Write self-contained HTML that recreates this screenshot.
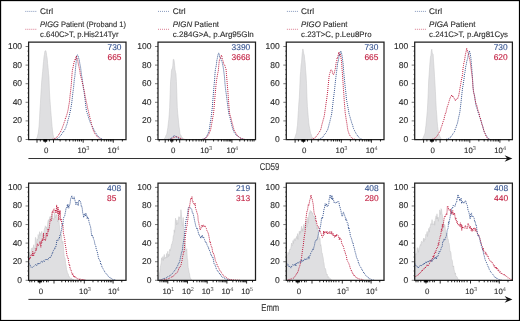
<!DOCTYPE html>
<html><head><meta charset="utf-8"><style>
html,body{margin:0;padding:0;background:#fff;overflow:hidden;}
svg{display:block;font-family:"Liberation Sans",sans-serif;}
text{stroke-width:0.12px;paint-order:stroke;}
svg{-webkit-font-smoothing:antialiased;text-rendering:geometricPrecision;will-change:transform;}
</style></head><body>
<svg width="520" height="321" viewBox="0 0 520 321">
<rect width="520" height="321" fill="#fff"/>
<rect x="0.55" y="0.55" width="518.95" height="319.95" fill="none" stroke="#000" stroke-width="1.2"/>
<line x1="25.3" y1="11.4" x2="37.3" y2="11.4" stroke="#34528f" stroke-width="0.9" stroke-dasharray="1 1" opacity="0.65"/>
<line x1="25.3" y1="29.3" x2="37.3" y2="29.3" stroke="#c01a3d" stroke-width="0.9" stroke-dasharray="1 1" opacity="0.62"/>
<text x="40.10" y="13.90" font-size="8.1" fill="#2b2b2b" stroke="#2b2b2b" textLength="12.9" lengthAdjust="spacingAndGlyphs">Ctrl</text>
<text x="40.10" y="26.9" font-size="8" fill="#2b2b2b" stroke="#2b2b2b" textLength="85.8" lengthAdjust="spacingAndGlyphs"><tspan font-style="italic">PIGG</tspan> Patient (Proband 1)</text>
<text x="40.10" y="36.80" font-size="8" fill="#2b2b2b" stroke="#2b2b2b" textLength="78.4" lengthAdjust="spacingAndGlyphs">c.640C&gt;T, p.His214Tyr</text>
<line x1="158.0" y1="11.4" x2="170.0" y2="11.4" stroke="#34528f" stroke-width="0.9" stroke-dasharray="1 1" opacity="0.65"/>
<line x1="158.0" y1="29.3" x2="170.0" y2="29.3" stroke="#c01a3d" stroke-width="0.9" stroke-dasharray="1 1" opacity="0.62"/>
<text x="172.80" y="13.90" font-size="8.1" fill="#2b2b2b" stroke="#2b2b2b" textLength="12.9" lengthAdjust="spacingAndGlyphs">Ctrl</text>
<text x="172.80" y="26.9" font-size="8" fill="#2b2b2b" stroke="#2b2b2b" textLength="46.2" lengthAdjust="spacingAndGlyphs"><tspan font-style="italic">PIGN</tspan> Patient</text>
<text x="172.80" y="36.80" font-size="8" fill="#2b2b2b" stroke="#2b2b2b" textLength="81.0" lengthAdjust="spacingAndGlyphs">c.284G&gt;A, p.Arg95Gln</text>
<line x1="286.90000000000003" y1="11.4" x2="298.90000000000003" y2="11.4" stroke="#34528f" stroke-width="0.9" stroke-dasharray="1 1" opacity="0.65"/>
<line x1="286.90000000000003" y1="29.3" x2="298.90000000000003" y2="29.3" stroke="#c01a3d" stroke-width="0.9" stroke-dasharray="1 1" opacity="0.62"/>
<text x="301.10" y="13.90" font-size="8.1" fill="#2b2b2b" stroke="#2b2b2b" textLength="12.9" lengthAdjust="spacingAndGlyphs">Ctrl</text>
<text x="301.10" y="26.9" font-size="8" fill="#2b2b2b" stroke="#2b2b2b" textLength="46.4" lengthAdjust="spacingAndGlyphs"><tspan font-style="italic">PIGO</tspan> Patient</text>
<text x="301.10" y="36.80" font-size="8" fill="#2b2b2b" stroke="#2b2b2b" textLength="70.4" lengthAdjust="spacingAndGlyphs">c.23T&gt;C, p.Leu8Pro</text>
<line x1="414.90000000000003" y1="11.4" x2="426.90000000000003" y2="11.4" stroke="#34528f" stroke-width="0.9" stroke-dasharray="1 1" opacity="0.65"/>
<line x1="414.90000000000003" y1="29.3" x2="426.90000000000003" y2="29.3" stroke="#c01a3d" stroke-width="0.9" stroke-dasharray="1 1" opacity="0.62"/>
<text x="429.10" y="13.90" font-size="8.1" fill="#2b2b2b" stroke="#2b2b2b" textLength="12.9" lengthAdjust="spacingAndGlyphs">Ctrl</text>
<text x="429.10" y="26.9" font-size="8" fill="#2b2b2b" stroke="#2b2b2b" textLength="46.4" lengthAdjust="spacingAndGlyphs"><tspan font-style="italic">PIGA</tspan> Patient</text>
<text x="429.10" y="36.80" font-size="8" fill="#2b2b2b" stroke="#2b2b2b" textLength="78.9" lengthAdjust="spacingAndGlyphs">c.241C&gt;T, p.Arg81Cys</text>
<path d="M35.00,139.50 L35.45,139.30 L35.90,139.17 L36.35,138.93 L36.80,138.12 L37.25,137.13 L37.70,135.16 L38.15,133.49 L38.60,130.00 L39.05,126.24 L39.50,118.81 L39.95,109.89 L40.40,103.67 L40.85,94.80 L41.30,87.82 L41.75,80.60 L42.20,76.24 L42.65,71.39 L43.10,65.91 L43.55,61.49 L44.00,56.71 L44.45,54.23 L44.90,51.12 L45.35,50.91 L45.80,50.56 L46.25,52.36 L46.70,55.64 L47.15,57.87 L47.60,63.49 L48.05,67.43 L48.50,73.16 L48.95,77.18 L49.40,90.06 L49.85,98.16 L50.30,104.24 L50.75,110.51 L51.20,115.83 L51.65,121.06 L52.10,126.45 L52.55,130.62 L53.00,134.20 L53.45,136.27 L53.90,137.18 L54.35,138.37 L54.80,138.62 L55.25,138.68 L55.70,139.13 L56.15,139.18 L57.00,139.50 L57.00,139.5 L35.00,139.5 Z" fill="#dfdfe1" stroke="#c4c4c6" stroke-width="0.5"/>
<path d="M55.00,139.50 L55.45,139.29 L55.90,139.12 L56.35,138.99 L56.80,138.68 L57.25,138.49 L57.70,138.28 L58.15,138.04 L58.60,137.85 L59.05,137.33 L59.50,136.94 L59.95,136.19 L60.40,135.80 L60.85,135.24 L61.30,134.78 L61.75,134.13 L62.20,133.46 L62.65,132.55 L63.10,132.52 L63.55,131.82 L64.00,130.90 L64.45,130.05 L64.90,129.36 L65.35,128.72 L65.80,127.71 L66.25,125.87 L66.70,124.97 L67.15,123.75 L67.60,121.57 L68.05,119.91 L68.50,118.55 L68.95,116.90 L69.40,115.22 L69.85,112.88 L70.30,111.15 L70.75,108.85 L71.20,105.94 L71.65,103.86 L72.10,99.56 L72.55,95.56 L73.00,91.62 L73.45,88.67 L73.90,83.96 L74.35,79.20 L74.80,76.53 L75.25,71.60 L75.70,66.30 L76.15,62.25 L76.60,56.52 L77.05,55.04 L77.50,54.85 L77.95,55.83 L78.40,56.96 L78.85,58.82 L79.30,59.93 L79.75,63.16 L80.20,65.57 L80.65,67.79 L81.10,71.56 L81.55,75.25 L82.00,77.52 L82.45,80.42 L82.90,84.51 L83.35,87.98 L83.80,90.39 L84.25,93.40 L84.70,96.84 L85.15,100.00 L85.60,104.82 L86.05,107.83 L86.50,111.30 L86.95,112.67 L87.40,113.74 L87.85,115.13 L88.30,116.63 L88.75,118.15 L89.20,119.56 L89.65,120.91 L90.10,122.04 L90.55,123.15 L91.00,123.93 L91.45,124.76 L91.90,125.80 L92.35,126.52 L92.80,127.47 L93.25,128.07 L93.70,129.33 L94.15,130.33 L94.60,131.07 L95.05,131.75 L95.50,132.34 L95.95,133.30 L96.40,133.94 L96.85,134.49 L97.30,135.64 L97.75,135.89 L98.20,136.17 L98.65,136.61 L99.10,137.08 L99.55,137.59 L100.00,137.95 L100.45,138.20 L100.90,138.48 L101.35,138.53 L101.80,138.88 L102.25,139.15 L103.00,139.50" fill="none" stroke="#34528f" stroke-width="1" stroke-dasharray="1 1" stroke-linejoin="round"/>
<path d="M52.00,139.50 L52.45,139.33 L52.90,139.27 L53.35,139.02 L53.80,138.77 L54.25,138.73 L54.70,138.49 L55.15,138.25 L55.60,138.08 L56.05,137.82 L56.50,137.56 L56.95,136.90 L57.40,136.36 L57.85,135.70 L58.30,135.09 L58.75,134.97 L59.20,133.66 L59.65,133.32 L60.10,132.21 L60.55,131.86 L61.00,130.80 L61.45,129.84 L61.90,128.97 L62.35,127.69 L62.80,126.34 L63.25,125.30 L63.70,124.16 L64.15,122.52 L64.60,121.39 L65.05,120.32 L65.50,117.96 L65.95,117.69 L66.40,115.60 L66.85,114.53 L67.30,112.96 L67.75,111.07 L68.20,109.25 L68.65,106.09 L69.10,103.94 L69.55,100.95 L70.00,95.98 L70.45,92.47 L70.90,88.30 L71.35,83.87 L71.80,76.92 L72.25,71.60 L72.70,68.49 L73.15,67.13 L73.60,64.20 L74.05,62.61 L74.50,60.45 L74.95,59.52 L75.40,60.27 L75.85,57.22 L76.30,55.96 L76.75,57.31 L77.20,59.67 L77.65,59.74 L78.10,62.68 L78.55,65.09 L79.00,66.78 L79.45,69.16 L79.90,71.08 L80.35,74.93 L80.80,76.30 L81.25,78.11 L81.70,79.72 L82.15,82.12 L82.60,83.97 L83.05,84.76 L83.50,87.45 L83.95,89.69 L84.40,91.35 L84.85,94.37 L85.30,97.49 L85.75,98.91 L86.20,101.76 L86.65,102.93 L87.10,105.35 L87.55,107.79 L88.00,109.67 L88.45,111.48 L88.90,113.57 L89.35,114.97 L89.80,117.22 L90.25,118.69 L90.70,120.38 L91.15,122.16 L91.60,124.57 L92.05,125.99 L92.50,128.42 L92.95,129.31 L93.40,130.55 L93.85,131.04 L94.30,132.54 L94.75,133.40 L95.20,134.26 L95.65,134.75 L96.10,135.34 L96.55,135.74 L97.00,136.07 L97.45,136.80 L97.90,137.26 L98.35,137.74 L98.80,138.19 L99.25,138.53 L99.70,138.75 L100.15,138.94 L101.00,139.50" fill="none" stroke="#c01a3d" stroke-width="1" stroke-dasharray="1 1" stroke-linejoin="round"/>
<path d="M162.00,139.50 L162.45,139.43 L162.90,139.38 L163.35,139.36 L163.80,139.28 L164.25,138.84 L164.70,138.20 L165.15,137.47 L165.60,136.46 L166.05,135.25 L166.50,134.72 L166.95,133.25 L167.40,130.26 L167.85,127.60 L168.30,123.28 L168.75,119.67 L169.20,114.72 L169.65,107.51 L170.10,94.56 L170.55,81.84 L171.00,76.73 L171.45,70.74 L171.90,68.86 L172.35,68.80 L172.80,65.84 L173.25,59.38 L173.70,59.26 L174.15,60.74 L174.60,65.29 L175.05,69.64 L175.50,72.20 L175.95,73.56 L176.40,81.45 L176.85,93.66 L177.30,107.73 L177.75,113.84 L178.20,117.87 L178.65,122.87 L179.10,126.99 L179.55,129.75 L180.00,134.46 L180.45,134.67 L180.90,135.04 L181.35,136.54 L181.80,137.03 L182.25,137.45 L182.70,138.15 L183.15,138.47 L183.60,138.87 L184.05,139.35 L184.50,139.35 L184.95,139.38 L185.40,139.42 L186.00,139.50 L186.00,139.5 L162.00,139.5 Z" fill="#dfdfe1" stroke="#c4c4c6" stroke-width="0.5"/>
<path d="M202.00,139.50 L202.45,139.35 L202.90,139.14 L203.35,138.89 L203.80,138.74 L204.25,138.62 L204.70,138.44 L205.15,137.96 L205.60,137.90 L206.05,137.18 L206.50,136.84 L206.95,135.66 L207.40,134.92 L207.85,133.96 L208.30,132.92 L208.75,131.51 L209.20,129.88 L209.65,127.57 L210.10,123.81 L210.55,121.07 L211.00,118.47 L211.45,114.80 L211.90,111.07 L212.35,106.91 L212.80,101.14 L213.25,95.20 L213.70,89.77 L214.15,84.66 L214.60,79.92 L215.05,72.99 L215.50,68.55 L215.95,67.18 L216.40,64.50 L216.85,60.23 L217.30,58.57 L217.75,55.74 L218.20,54.05 L218.65,53.20 L219.10,53.26 L219.55,57.13 L220.00,57.51 L220.45,58.00 L220.90,58.70 L221.35,60.62 L221.80,61.30 L222.25,62.61 L222.70,64.86 L223.15,66.88 L223.60,69.81 L224.05,73.39 L224.50,77.03 L224.95,83.10 L225.40,87.82 L225.85,91.25 L226.30,94.47 L226.75,98.08 L227.20,101.46 L227.65,104.97 L228.10,108.34 L228.55,111.91 L229.00,114.65 L229.45,115.78 L229.90,117.33 L230.35,119.31 L230.80,121.28 L231.25,122.82 L231.70,124.95 L232.15,126.90 L232.60,128.08 L233.05,130.03 L233.50,130.52 L233.95,131.70 L234.40,132.77 L234.85,133.22 L235.30,133.51 L235.75,134.63 L236.20,135.36 L236.65,135.58 L237.10,135.71 L237.55,136.04 L238.00,136.41 L238.45,136.57 L238.90,136.99 L239.35,137.40 L239.80,137.65 L240.25,137.87 L240.70,138.11 L241.15,138.29 L241.60,138.63 L242.05,138.74 L242.50,138.87 L242.95,139.10 L243.40,139.22 L244.00,139.50" fill="none" stroke="#34528f" stroke-width="1" stroke-dasharray="1 1" stroke-linejoin="round"/>
<path d="M203.00,139.50 L203.45,139.28 L203.90,138.92 L204.35,138.75 L204.80,138.62 L205.25,138.37 L205.70,137.92 L206.15,137.83 L206.60,137.10 L207.05,136.47 L207.50,136.00 L207.95,135.58 L208.40,134.77 L208.85,134.14 L209.30,133.03 L209.75,131.96 L210.20,130.99 L210.65,129.51 L211.10,127.02 L211.55,124.56 L212.00,122.05 L212.45,119.60 L212.90,116.72 L213.35,114.82 L213.80,110.82 L214.25,105.08 L214.70,100.31 L215.15,94.35 L215.60,89.74 L216.05,84.42 L216.50,80.79 L216.95,77.87 L217.40,75.33 L217.85,72.77 L218.30,71.05 L218.75,65.61 L219.20,61.35 L219.65,59.28 L220.10,58.95 L220.55,57.13 L221.00,57.19 L221.45,55.12 L221.90,56.41 L222.35,59.79 L222.80,60.20 L223.25,61.42 L223.70,64.00 L224.15,64.66 L224.60,65.04 L225.05,65.97 L225.50,67.80 L225.95,68.60 L226.40,73.13 L226.85,78.84 L227.30,84.60 L227.75,89.82 L228.20,95.67 L228.65,102.39 L229.10,107.31 L229.55,112.83 L230.00,114.91 L230.45,116.22 L230.90,117.87 L231.35,119.40 L231.80,121.77 L232.25,123.38 L232.70,124.81 L233.15,126.65 L233.60,128.48 L234.05,130.10 L234.50,131.00 L234.95,131.43 L235.40,132.26 L235.85,133.10 L236.30,133.96 L236.75,134.61 L237.20,135.62 L237.65,135.76 L238.10,136.03 L238.55,136.65 L239.00,136.85 L239.45,137.28 L239.90,137.86 L240.35,138.07 L240.80,138.21 L241.25,138.29 L241.70,138.42 L242.15,138.61 L242.60,138.81 L243.05,138.90 L243.50,139.03 L243.95,139.14 L244.40,139.30 L245.00,139.50" fill="none" stroke="#c01a3d" stroke-width="1" stroke-dasharray="1 1" stroke-linejoin="round"/>
<path d="M169.00,139.50 L171.00,139.20 L173.50,137.60 L176.50,136.50 L179.50,137.80 L182.00,139.20 L185.00,139.50" fill="none" stroke="#c01a3d" stroke-width="1" stroke-dasharray="1 1" stroke-linejoin="round"/>
<path d="M168.00,139.50 L170.00,139.20 L172.00,137.50 L174.50,135.50 L177.00,137.50 L180.00,139.20 L182.00,139.50" fill="none" stroke="#34528f" stroke-width="1" stroke-dasharray="1 1" stroke-linejoin="round"/>
<path d="M293.00,139.50 L293.45,139.37 L293.90,139.24 L294.35,139.13 L294.80,137.82 L295.25,136.43 L295.70,135.11 L296.15,133.80 L296.60,132.32 L297.05,127.79 L297.50,125.13 L297.95,117.26 L298.40,110.53 L298.85,102.69 L299.30,97.85 L299.75,87.86 L300.20,76.79 L300.65,71.42 L301.10,64.90 L301.55,62.20 L302.00,55.77 L302.45,51.37 L302.90,48.91 L303.35,50.96 L303.80,53.95 L304.25,55.01 L304.70,59.42 L305.15,62.72 L305.60,70.18 L306.05,74.86 L306.50,83.35 L306.95,96.58 L307.40,106.70 L307.85,112.10 L308.30,117.52 L308.75,122.69 L309.20,125.97 L309.65,128.26 L310.10,130.65 L310.55,133.34 L311.00,133.91 L311.45,135.18 L311.90,136.73 L312.35,137.31 L312.80,137.86 L313.25,138.08 L313.70,138.77 L314.15,138.99 L314.60,139.18 L315.05,139.30 L315.50,139.35 L316.00,139.50 L316.00,139.5 L293.00,139.5 Z" fill="#dfdfe1" stroke="#c4c4c6" stroke-width="0.5"/>
<path d="M318.00,139.50 L318.45,139.36 L318.90,139.14 L319.35,139.01 L319.80,138.82 L320.25,138.57 L320.70,138.43 L321.15,138.39 L321.60,137.99 L322.05,138.02 L322.50,137.36 L322.95,136.91 L323.40,136.21 L323.85,135.84 L324.30,134.68 L324.75,134.11 L325.20,133.91 L325.65,133.28 L326.10,132.63 L326.55,131.37 L327.00,131.02 L327.45,130.24 L327.90,128.92 L328.35,127.15 L328.80,125.69 L329.25,123.65 L329.70,122.37 L330.15,120.22 L330.60,118.36 L331.05,116.57 L331.50,115.09 L331.95,111.66 L332.40,107.54 L332.85,104.13 L333.30,99.49 L333.75,96.14 L334.20,92.88 L334.65,88.75 L335.10,84.39 L335.55,80.16 L336.00,76.46 L336.45,72.70 L336.90,69.18 L337.35,65.76 L337.80,62.04 L338.25,61.46 L338.70,58.59 L339.15,54.54 L339.60,55.98 L340.05,53.35 L340.50,51.15 L340.95,51.26 L341.40,52.64 L341.85,54.64 L342.30,57.25 L342.75,61.22 L343.20,64.51 L343.65,71.36 L344.10,75.91 L344.55,80.46 L345.00,85.18 L345.45,89.32 L345.90,92.83 L346.35,98.60 L346.80,101.26 L347.25,103.55 L347.70,106.08 L348.15,108.32 L348.60,110.90 L349.05,113.73 L349.50,115.34 L349.95,116.67 L350.40,118.51 L350.85,119.87 L351.30,121.10 L351.75,123.07 L352.20,124.05 L352.65,125.17 L353.10,127.26 L353.55,128.52 L354.00,130.03 L354.45,130.41 L354.90,131.43 L355.35,132.07 L355.80,133.13 L356.25,133.75 L356.70,134.50 L357.15,135.45 L357.60,135.51 L358.05,136.14 L358.50,137.01 L358.95,137.26 L359.40,137.89 L359.85,138.17 L360.30,138.45 L360.75,138.85 L361.20,139.03 L362.00,139.50" fill="none" stroke="#34528f" stroke-width="1" stroke-dasharray="1 1" stroke-linejoin="round"/>
<path d="M311.00,139.50 L311.45,139.37 L311.90,139.23 L312.35,139.07 L312.80,138.82 L313.25,138.56 L313.70,138.48 L314.15,138.33 L314.60,137.99 L315.05,138.07 L315.50,137.52 L315.95,136.76 L316.40,136.13 L316.85,135.74 L317.30,135.15 L317.75,134.30 L318.20,133.65 L318.65,133.25 L319.10,132.35 L319.55,131.73 L320.00,130.82 L320.45,130.26 L320.90,128.87 L321.35,127.21 L321.80,125.09 L322.25,123.24 L322.70,122.04 L323.15,119.91 L323.60,118.72 L324.05,116.71 L324.50,114.72 L324.95,111.06 L325.40,108.48 L325.85,105.02 L326.30,101.55 L326.75,99.03 L327.20,94.96 L327.65,91.80 L328.10,86.24 L328.55,82.05 L329.00,77.28 L329.45,74.54 L329.90,72.87 L330.35,71.98 L330.80,70.00 L331.25,69.63 L331.70,70.27 L332.15,70.78 L332.60,73.25 L333.05,73.97 L333.50,74.85 L333.95,73.85 L334.40,72.59 L334.85,70.43 L335.30,68.81 L335.75,65.81 L336.20,62.52 L336.65,61.85 L337.10,58.02 L337.55,58.24 L338.00,55.99 L338.45,54.24 L338.90,52.01 L339.35,53.40 L339.80,54.96 L340.25,54.05 L340.70,55.86 L341.15,59.13 L341.60,61.58 L342.05,69.02 L342.50,74.85 L342.95,81.43 L343.40,88.71 L343.85,94.51 L344.30,101.91 L344.75,106.91 L345.20,113.06 L345.65,115.68 L346.10,119.04 L346.55,121.56 L347.00,124.16 L347.45,127.72 L347.90,130.35 L348.35,131.72 L348.80,133.10 L349.25,134.37 L349.70,135.17 L350.15,135.88 L350.60,136.49 L351.05,137.13 L351.50,137.64 L351.95,138.07 L352.40,138.33 L352.85,138.47 L353.30,138.74 L353.75,139.00 L354.20,139.07 L355.00,139.50" fill="none" stroke="#c01a3d" stroke-width="1" stroke-dasharray="1 1" stroke-linejoin="round"/>
<path d="M421.00,139.50 L421.45,139.38 L421.90,139.30 L422.35,139.32 L422.80,138.37 L423.25,137.50 L423.70,136.30 L424.15,135.22 L424.60,134.10 L425.05,133.03 L425.50,128.67 L425.95,125.39 L426.40,120.86 L426.85,115.75 L427.30,111.09 L427.75,102.86 L428.20,93.27 L428.65,81.03 L429.10,74.98 L429.55,67.81 L430.00,61.66 L430.45,57.06 L430.90,55.42 L431.35,51.01 L431.80,49.24 L432.25,53.10 L432.70,53.62 L433.15,54.22 L433.60,61.96 L434.05,67.66 L434.50,76.10 L434.95,83.06 L435.40,91.28 L435.85,100.92 L436.30,109.59 L436.75,114.54 L437.20,121.61 L437.65,126.42 L438.10,129.64 L438.55,133.41 L439.00,134.21 L439.45,135.41 L439.90,136.78 L440.35,137.43 L440.80,138.36 L441.25,138.77 L441.70,139.32 L442.15,139.36 L443.00,139.50 L443.00,139.5 L421.00,139.5 Z" fill="#dfdfe1" stroke="#c4c4c6" stroke-width="0.5"/>
<path d="M446.00,139.50 L446.45,139.30 L446.90,139.14 L447.35,138.99 L447.80,138.75 L448.25,138.50 L448.70,138.43 L449.15,138.22 L449.60,137.97 L450.05,137.87 L450.50,137.64 L450.95,136.56 L451.40,135.91 L451.85,135.85 L452.30,134.91 L452.75,134.18 L453.20,133.42 L453.65,132.82 L454.10,132.34 L454.55,131.50 L455.00,129.94 L455.45,128.40 L455.90,127.63 L456.35,126.32 L456.80,124.73 L457.25,124.00 L457.70,122.01 L458.15,119.93 L458.60,117.49 L459.05,115.77 L459.50,113.71 L459.95,111.39 L460.40,107.52 L460.85,103.86 L461.30,99.62 L461.75,95.32 L462.20,91.14 L462.65,87.22 L463.10,85.18 L463.55,81.61 L464.00,79.45 L464.45,73.94 L464.90,72.59 L465.35,69.25 L465.80,65.97 L466.25,64.77 L466.70,61.58 L467.15,59.91 L467.60,59.12 L468.05,55.78 L468.50,53.33 L468.95,53.62 L469.40,50.68 L469.85,52.63 L470.30,53.99 L470.75,57.20 L471.20,61.15 L471.65,67.09 L472.10,72.27 L472.55,79.09 L473.00,86.18 L473.45,91.56 L473.90,93.24 L474.35,94.44 L474.80,97.73 L475.25,100.67 L475.70,103.77 L476.15,106.25 L476.60,107.41 L477.05,108.55 L477.50,110.22 L477.95,111.63 L478.40,113.20 L478.85,114.02 L479.30,116.00 L479.75,117.39 L480.20,118.23 L480.65,119.85 L481.10,121.30 L481.55,122.75 L482.00,124.19 L482.45,125.48 L482.90,127.11 L483.35,129.04 L483.80,130.19 L484.25,131.79 L484.70,132.92 L485.15,133.40 L485.60,134.40 L486.05,135.22 L486.50,135.88 L486.95,136.64 L487.40,137.69 L487.85,138.00 L488.30,138.41 L488.75,138.49 L489.20,138.98 L490.00,139.50" fill="none" stroke="#34528f" stroke-width="1" stroke-dasharray="1 1" stroke-linejoin="round"/>
<path d="M432.00,139.50 L432.45,139.27 L432.90,138.98 L433.35,139.03 L433.80,138.70 L434.25,138.43 L434.70,138.27 L435.15,138.11 L435.60,137.64 L436.05,137.28 L436.50,136.84 L436.95,135.87 L437.40,135.59 L437.85,134.50 L438.30,134.13 L438.75,133.35 L439.20,132.48 L439.65,132.05 L440.10,131.14 L440.55,129.92 L441.00,127.93 L441.45,126.72 L441.90,125.82 L442.35,124.05 L442.80,122.83 L443.25,121.31 L443.70,120.64 L444.15,118.41 L444.60,116.39 L445.05,114.83 L445.50,113.16 L445.95,112.84 L446.40,110.26 L446.85,108.63 L447.30,106.26 L447.75,106.22 L448.20,104.45 L448.65,102.79 L449.10,100.90 L449.55,100.12 L450.00,98.00 L450.45,97.53 L450.90,96.27 L451.35,95.98 L451.80,94.97 L452.25,95.80 L452.70,96.97 L453.15,96.41 L453.60,97.50 L454.05,98.55 L454.50,98.83 L454.95,99.11 L455.40,100.66 L455.85,100.19 L456.30,99.25 L456.75,98.61 L457.20,98.49 L457.65,98.94 L458.10,96.97 L458.55,96.30 L459.00,93.92 L459.45,91.55 L459.90,88.61 L460.35,86.17 L460.80,83.69 L461.25,80.73 L461.70,78.62 L462.15,76.70 L462.60,73.53 L463.05,68.15 L463.50,65.57 L463.95,62.23 L464.40,61.24 L464.85,58.26 L465.30,55.08 L465.75,53.16 L466.20,51.10 L466.65,48.30 L467.10,49.44 L467.55,51.95 L468.00,52.38 L468.45,53.55 L468.90,56.05 L469.35,57.77 L469.80,59.42 L470.25,62.59 L470.70,65.69 L471.15,69.08 L471.60,72.69 L472.05,75.56 L472.50,79.74 L472.95,87.32 L473.40,90.25 L473.85,93.44 L474.30,95.16 L474.75,97.39 L475.20,100.21 L475.65,102.16 L476.10,104.00 L476.55,105.28 L477.00,105.32 L477.45,108.98 L477.90,109.70 L478.35,111.95 L478.80,112.46 L479.25,113.45 L479.70,116.91 L480.15,117.57 L480.60,119.04 L481.05,120.90 L481.50,122.23 L481.95,124.59 L482.40,125.25 L482.85,126.93 L483.30,128.57 L483.75,130.25 L484.20,131.53 L484.65,132.84 L485.10,133.68 L485.55,134.77 L486.00,135.97 L486.45,136.62 L486.90,137.56 L487.35,138.03 L487.80,138.54 L488.25,138.86 L489.00,139.50" fill="none" stroke="#c01a3d" stroke-width="1" stroke-dasharray="1 1" stroke-linejoin="round"/>
<path d="M28.70,257.00 L29.15,254.21 L29.60,252.14 L30.05,256.49 L30.50,257.40 L30.95,250.86 L31.40,248.37 L31.85,248.46 L32.30,247.69 L32.75,249.82 L33.20,249.14 L33.65,244.76 L34.10,247.82 L34.55,248.97 L35.00,246.27 L35.45,237.37 L35.90,237.72 L36.35,242.92 L36.80,242.14 L37.25,238.94 L37.70,240.42 L38.15,234.48 L38.60,236.99 L39.05,238.63 L39.50,231.68 L39.95,235.91 L40.40,233.28 L40.85,233.30 L41.30,233.51 L41.75,231.27 L42.20,233.36 L42.65,235.85 L43.10,236.26 L43.55,233.19 L44.00,231.26 L44.45,228.69 L44.90,227.84 L45.35,225.82 L45.80,226.38 L46.25,228.27 L46.70,227.12 L47.15,230.14 L47.60,223.66 L48.05,220.80 L48.50,219.68 L48.95,220.92 L49.40,220.51 L49.85,216.68 L50.30,218.83 L50.75,216.12 L51.20,216.16 L51.65,217.04 L52.10,213.54 L52.55,218.94 L53.00,218.08 L53.45,219.64 L53.90,219.83 L54.35,213.03 L54.80,212.66 L55.25,217.93 L55.70,216.31 L56.15,214.50 L56.60,215.60 L57.05,214.53 L57.50,222.02 L57.95,220.31 L58.40,218.34 L58.85,218.16 L59.30,224.49 L59.75,229.62 L60.20,230.57 L60.65,233.71 L61.10,237.30 L61.55,234.84 L62.00,242.67 L62.45,243.29 L62.90,240.91 L63.35,246.39 L63.80,251.40 L64.25,256.37 L64.70,257.52 L65.15,258.62 L65.60,263.24 L66.05,265.27 L66.50,269.40 L66.95,270.38 L67.40,272.63 L67.85,273.46 L68.30,274.03 L68.75,276.96 L69.20,276.52 L69.65,276.98 L70.10,278.15 L70.55,278.59 L71.00,278.28 L71.45,278.00 L71.90,278.87 L72.35,279.25 L72.80,280.09 L73.25,279.38 L74.00,280.30 L74.00,280.3 L28.70,280.3 Z" fill="#dfdfe1" stroke="#c4c4c6" stroke-width="0.5"/>
<path d="M28.70,258.60 L29.15,259.95 L29.60,257.69 L30.05,258.95 L30.50,256.46 L30.95,255.27 L31.40,255.52 L31.85,254.57 L32.30,256.05 L32.75,251.38 L33.20,254.61 L33.65,256.21 L34.10,252.65 L34.55,253.14 L35.00,252.74 L35.45,250.59 L35.90,248.43 L36.35,250.47 L36.80,247.48 L37.25,243.56 L37.70,244.52 L38.15,245.69 L38.60,244.55 L39.05,244.51 L39.50,243.80 L39.95,241.57 L40.40,242.78 L40.85,247.27 L41.30,241.52 L41.75,242.88 L42.20,238.83 L42.65,240.95 L43.10,238.52 L43.55,233.16 L44.00,239.85 L44.45,239.33 L44.90,239.26 L45.35,240.84 L45.80,238.88 L46.25,232.74 L46.70,234.39 L47.15,236.58 L47.60,234.77 L48.05,228.66 L48.50,231.25 L48.95,229.33 L49.40,226.65 L49.85,222.43 L50.30,219.30 L50.75,220.12 L51.20,220.95 L51.65,218.90 L52.10,212.32 L52.55,210.93 L53.00,212.91 L53.45,209.53 L53.90,208.90 L54.35,208.99 L54.80,210.19 L55.25,212.34 L55.70,209.75 L56.15,212.78 L56.60,204.94 L57.05,207.50 L57.50,213.57 L57.95,206.80 L58.40,210.25 L58.85,220.02 L59.30,210.82 L59.75,214.56 L60.20,210.51 L60.65,220.50 L61.10,218.75 L61.55,222.03 L62.00,224.01 L62.45,225.48 L62.90,224.75 L63.35,233.23 L63.80,234.56 L64.25,237.38 L64.70,238.58 L65.15,244.37 L65.60,246.13 L66.05,249.18 L66.50,252.29 L66.95,255.59 L67.40,257.16 L67.85,256.85 L68.30,259.27 L68.75,262.44 L69.20,265.16 L69.65,264.81 L70.10,269.22 L70.55,268.89 L71.00,269.52 L71.45,272.18 L71.90,272.26 L72.35,274.98 L72.80,273.69 L73.25,274.95 L73.70,276.88 L74.15,275.76 L74.60,277.39 L75.05,276.54 L75.50,277.94 L75.95,277.85 L76.40,277.83 L76.85,278.37 L77.30,278.29 L77.75,278.89 L78.20,278.57 L78.65,279.02 L79.10,279.01 L79.55,280.19 L80.00,278.79 L80.45,279.27 L80.90,279.96 L81.35,279.39 L81.80,279.33 L82.25,279.22 L82.70,279.94 L83.15,279.30 L83.60,279.85 L84.05,279.36 L84.50,280.02 L84.95,279.97 L85.40,280.22 L86.00,280.30" fill="none" stroke="#c01a3d" stroke-width="1" stroke-dasharray="1 1" stroke-linejoin="round"/>
<path d="M28.70,263.50 L29.15,263.60 L29.60,263.87 L30.05,264.83 L30.50,266.18 L30.95,267.31 L31.40,267.01 L31.85,267.20 L32.30,267.46 L32.75,266.86 L33.20,266.59 L33.65,266.52 L34.10,265.89 L34.55,265.67 L35.00,265.08 L35.45,264.67 L35.90,264.43 L36.35,265.23 L36.80,265.57 L37.25,263.81 L37.70,264.21 L38.15,263.27 L38.60,264.49 L39.05,263.36 L39.50,262.78 L39.95,263.48 L40.40,262.75 L40.85,261.82 L41.30,261.43 L41.75,260.93 L42.20,262.23 L42.65,262.34 L43.10,260.94 L43.55,260.46 L44.00,260.71 L44.45,261.43 L44.90,259.89 L45.35,259.67 L45.80,259.60 L46.25,260.05 L46.70,259.33 L47.15,258.79 L47.60,259.46 L48.05,260.08 L48.50,258.38 L48.95,258.00 L49.40,258.04 L49.85,257.18 L50.30,257.90 L50.75,256.83 L51.20,256.25 L51.65,254.90 L52.10,253.33 L52.55,253.70 L53.00,251.03 L53.45,250.45 L53.90,250.11 L54.35,249.38 L54.80,247.56 L55.25,248.23 L55.70,247.00 L56.15,245.59 L56.60,242.06 L57.05,239.72 L57.50,240.18 L57.95,240.02 L58.40,240.13 L58.85,238.64 L59.30,238.96 L59.75,235.51 L60.20,235.55 L60.65,234.25 L61.10,231.95 L61.55,230.05 L62.00,226.03 L62.45,223.44 L62.90,223.91 L63.35,219.35 L63.80,217.29 L64.25,216.85 L64.70,215.99 L65.15,213.33 L65.60,211.38 L66.05,208.40 L66.50,207.69 L66.95,208.41 L67.40,204.31 L67.85,206.89 L68.30,204.79 L68.75,208.27 L69.20,206.28 L69.65,205.12 L70.10,203.28 L70.55,199.16 L71.00,197.91 L71.45,196.64 L71.90,195.68 L72.35,198.82 L72.80,198.20 L73.25,198.64 L73.70,198.98 L74.15,196.86 L74.60,199.08 L75.05,200.66 L75.50,202.70 L75.95,204.82 L76.40,202.15 L76.85,201.88 L77.30,202.98 L77.75,203.97 L78.20,205.68 L78.65,201.63 L79.10,199.87 L79.55,201.04 L80.00,201.19 L80.45,201.45 L80.90,203.23 L81.35,206.68 L81.80,206.39 L82.25,208.53 L82.70,213.14 L83.15,213.76 L83.60,217.50 L84.05,215.97 L84.50,213.84 L84.95,214.39 L85.40,216.18 L85.85,213.21 L86.30,215.17 L86.75,214.84 L87.20,218.89 L87.65,217.21 L88.10,217.29 L88.55,218.57 L89.00,222.17 L89.45,222.92 L89.90,225.25 L90.35,225.93 L90.80,228.28 L91.25,232.25 L91.70,235.74 L92.15,234.73 L92.60,236.86 L93.05,236.91 L93.50,238.99 L93.95,239.39 L94.40,241.34 L94.85,244.22 L95.30,245.04 L95.75,245.39 L96.20,249.03 L96.65,250.06 L97.10,251.31 L97.55,253.09 L98.00,255.34 L98.45,257.95 L98.90,259.24 L99.35,259.59 L99.80,260.86 L100.25,260.93 L100.70,264.30 L101.15,264.08 L101.60,265.21 L102.05,267.42 L102.50,267.87 L102.95,268.28 L103.40,269.51 L103.85,270.26 L104.30,270.83 L104.75,271.97 L105.20,272.05 L105.65,273.08 L106.10,273.64 L106.55,273.84 L107.00,274.83 L107.45,275.14 L107.90,275.35 L108.35,276.43 L108.80,276.81 L109.25,276.88 L109.70,277.46 L110.15,277.42 L110.60,278.24 L111.05,278.14 L111.50,278.66 L111.95,279.00 L112.40,278.90 L112.85,279.49 L113.30,279.28 L113.75,279.56 L114.20,279.62 L114.65,279.99 L115.10,279.95 L115.55,280.09 L116.00,280.30" fill="none" stroke="#34528f" stroke-width="1" stroke-dasharray="1 1" stroke-linejoin="round"/>
<path d="M158.00,280.30 L158.45,278.01 L158.90,276.62 L159.35,274.34 L159.80,271.86 L160.25,267.86 L160.70,265.35 L161.15,262.93 L161.60,257.78 L162.05,260.28 L162.50,258.59 L162.95,256.57 L163.40,260.47 L163.85,256.71 L164.30,254.48 L164.75,259.02 L165.20,257.76 L165.65,257.16 L166.10,258.15 L166.55,253.57 L167.00,257.74 L167.45,253.18 L167.90,251.23 L168.35,256.87 L168.80,254.02 L169.25,255.87 L169.70,249.30 L170.15,251.12 L170.60,249.05 L171.05,247.19 L171.50,244.35 L171.95,244.53 L172.40,241.95 L172.85,240.61 L173.30,235.67 L173.75,235.89 L174.20,229.83 L174.65,232.46 L175.10,226.44 L175.55,218.23 L176.00,222.10 L176.45,224.86 L176.90,219.99 L177.35,222.95 L177.80,224.44 L178.25,221.42 L178.70,216.77 L179.15,216.87 L179.60,217.22 L180.05,218.61 L180.50,218.02 L180.95,209.72 L181.40,214.21 L181.85,220.01 L182.30,225.59 L182.75,225.74 L183.20,217.44 L183.65,230.90 L184.10,234.17 L184.55,237.93 L185.00,241.90 L185.45,245.26 L185.90,249.73 L186.35,251.03 L186.80,248.81 L187.25,258.17 L187.70,259.66 L188.15,267.40 L188.60,269.24 L189.05,272.34 L189.50,273.55 L189.95,277.15 L190.40,277.87 L190.85,278.84 L191.30,279.75 L192.00,280.30 L192.00,280.3 L158.00,280.3 Z" fill="#dfdfe1" stroke="#c4c4c6" stroke-width="0.5"/>
<path d="M159.00,280.30 L159.45,280.19 L159.90,280.00 L160.35,280.06 L160.80,279.71 L161.25,279.65 L161.70,279.56 L162.15,279.29 L162.60,278.99 L163.05,278.99 L163.50,278.59 L163.95,278.79 L164.40,278.67 L164.85,278.05 L165.30,278.08 L165.75,277.82 L166.20,277.99 L166.65,277.41 L167.10,277.22 L167.55,276.84 L168.00,276.67 L168.45,276.10 L168.90,276.24 L169.35,276.03 L169.80,275.87 L170.25,274.89 L170.70,275.10 L171.15,274.82 L171.60,274.29 L172.05,273.63 L172.50,273.38 L172.95,272.55 L173.40,272.15 L173.85,271.62 L174.30,271.25 L174.75,270.38 L175.20,270.05 L175.65,269.31 L176.10,268.40 L176.55,267.46 L177.00,267.64 L177.45,266.04 L177.90,265.26 L178.35,263.64 L178.80,263.86 L179.25,262.55 L179.70,261.20 L180.15,259.20 L180.60,256.43 L181.05,255.21 L181.50,252.33 L181.95,251.81 L182.40,250.04 L182.85,245.66 L183.30,243.14 L183.75,240.05 L184.20,237.28 L184.65,232.46 L185.10,228.94 L185.55,222.20 L186.00,221.06 L186.45,217.51 L186.90,216.17 L187.35,215.57 L187.80,212.39 L188.25,207.85 L188.70,207.24 L189.15,207.42 L189.60,206.93 L190.05,207.75 L190.50,208.01 L190.95,208.41 L191.40,209.67 L191.85,209.63 L192.30,212.66 L192.75,212.55 L193.20,214.25 L193.65,215.87 L194.10,218.01 L194.55,220.51 L195.00,222.38 L195.45,224.50 L195.90,226.50 L196.35,227.22 L196.80,229.00 L197.25,228.11 L197.70,229.98 L198.15,231.76 L198.60,234.24 L199.05,234.03 L199.50,235.45 L199.95,236.53 L200.40,237.13 L200.85,238.33 L201.30,236.31 L201.75,236.96 L202.20,235.14 L202.65,237.41 L203.10,237.76 L203.55,236.81 L204.00,238.48 L204.45,239.32 L204.90,240.58 L205.35,241.96 L205.80,241.76 L206.25,243.37 L206.70,243.58 L207.15,245.71 L207.60,246.14 L208.05,247.45 L208.50,247.07 L208.95,250.03 L209.40,250.17 L209.85,251.25 L210.30,252.10 L210.75,254.36 L211.20,254.00 L211.65,255.89 L212.10,256.75 L212.55,257.90 L213.00,257.36 L213.45,259.98 L213.90,263.15 L214.35,264.27 L214.80,265.11 L215.25,264.90 L215.70,266.62 L216.15,268.32 L216.60,269.84 L217.05,270.44 L217.50,270.69 L217.95,270.94 L218.40,272.14 L218.85,272.75 L219.30,273.16 L219.75,274.19 L220.20,273.99 L220.65,275.17 L221.10,275.22 L221.55,276.53 L222.00,277.02 L222.45,277.26 L222.90,277.64 L223.35,277.52 L223.80,277.84 L224.25,278.22 L224.70,278.08 L225.15,278.23 L225.60,278.84 L226.05,278.46 L226.50,278.85 L226.95,279.01 L227.40,279.52 L227.85,279.48 L228.30,279.53 L228.75,279.49 L229.20,279.82 L229.65,279.86 L230.10,280.04 L230.55,280.00 L231.00,280.06 L231.45,280.25 L232.00,280.30" fill="none" stroke="#34528f" stroke-width="1" stroke-dasharray="1 1" stroke-linejoin="round"/>
<path d="M160.00,280.30 L160.45,280.21 L160.90,280.19 L161.35,280.19 L161.80,280.20 L162.25,280.15 L162.70,280.09 L163.15,279.99 L163.60,279.91 L164.05,279.65 L164.50,279.67 L164.95,279.71 L165.40,279.30 L165.85,279.26 L166.30,279.26 L166.75,279.27 L167.20,279.34 L167.65,279.12 L168.10,278.66 L168.55,278.73 L169.00,278.63 L169.45,278.14 L169.90,277.91 L170.35,277.63 L170.80,277.40 L171.25,277.01 L171.70,277.32 L172.15,276.67 L172.60,276.95 L173.05,276.10 L173.50,275.81 L173.95,275.37 L174.40,274.72 L174.85,274.60 L175.30,273.81 L175.75,273.46 L176.20,273.29 L176.65,273.12 L177.10,272.77 L177.55,271.90 L178.00,270.88 L178.45,269.91 L178.90,267.67 L179.35,267.80 L179.80,266.83 L180.25,266.73 L180.70,265.76 L181.15,264.52 L181.60,262.05 L182.05,260.59 L182.50,256.76 L182.95,255.95 L183.40,252.65 L183.85,252.86 L184.30,249.01 L184.75,243.28 L185.20,237.84 L185.65,234.03 L186.10,230.88 L186.55,227.44 L187.00,225.88 L187.45,221.13 L187.90,219.27 L188.35,212.52 L188.80,209.36 L189.25,207.22 L189.70,205.25 L190.15,202.83 L190.60,198.94 L191.05,198.02 L191.50,199.10 L191.95,196.66 L192.40,201.04 L192.85,202.37 L193.30,201.76 L193.75,203.55 L194.20,204.52 L194.65,204.99 L195.10,203.14 L195.55,208.80 L196.00,209.48 L196.45,210.72 L196.90,212.54 L197.35,213.85 L197.80,215.32 L198.25,220.90 L198.70,222.05 L199.15,225.07 L199.60,226.74 L200.05,230.11 L200.50,229.44 L200.95,229.09 L201.40,225.59 L201.85,225.46 L202.30,225.13 L202.75,227.21 L203.20,225.03 L203.65,225.20 L204.10,226.31 L204.55,226.48 L205.00,225.57 L205.45,226.61 L205.90,228.05 L206.35,228.43 L206.80,230.37 L207.25,230.88 L207.70,232.13 L208.15,232.88 L208.60,234.66 L209.05,236.90 L209.50,239.55 L209.95,242.63 L210.40,241.96 L210.85,244.87 L211.30,246.46 L211.75,246.60 L212.20,248.81 L212.65,252.46 L213.10,252.39 L213.55,253.83 L214.00,254.57 L214.45,256.31 L214.90,258.02 L215.35,260.55 L215.80,261.70 L216.25,262.36 L216.70,263.26 L217.15,265.09 L217.60,265.76 L218.05,266.78 L218.50,267.58 L218.95,268.47 L219.40,269.77 L219.85,271.17 L220.30,270.91 L220.75,271.41 L221.20,272.66 L221.65,272.87 L222.10,273.69 L222.55,274.23 L223.00,274.91 L223.45,275.88 L223.90,275.99 L224.35,276.19 L224.80,277.00 L225.25,276.62 L225.70,276.93 L226.15,277.33 L226.60,277.64 L227.05,278.22 L227.50,278.69 L227.95,278.86 L228.40,279.02 L228.85,279.00 L229.30,279.16 L229.75,279.19 L230.20,279.66 L230.65,279.25 L231.10,279.31 L231.55,279.62 L232.00,279.60 L232.45,279.67 L232.90,279.75 L233.35,279.84 L233.80,279.89 L234.25,279.99 L234.70,279.96 L235.15,280.02 L235.60,280.02 L236.05,280.12 L236.50,280.09 L236.95,280.12 L237.40,280.12 L237.85,280.22 L238.30,280.18 L238.75,280.19 L239.20,280.24 L240.00,280.30" fill="none" stroke="#c01a3d" stroke-width="1" stroke-dasharray="1 1" stroke-linejoin="round"/>
<path d="M286.70,258.00 L287.15,257.42 L287.60,254.77 L288.05,252.30 L288.50,254.26 L288.95,253.72 L289.40,250.34 L289.85,249.20 L290.30,249.97 L290.75,248.20 L291.20,245.72 L291.65,243.04 L292.10,245.99 L292.55,244.63 L293.00,240.52 L293.45,243.57 L293.90,239.81 L294.35,238.65 L294.80,239.25 L295.25,240.88 L295.70,238.24 L296.15,238.42 L296.60,236.42 L297.05,238.71 L297.50,233.63 L297.95,239.51 L298.40,235.29 L298.85,234.18 L299.30,231.20 L299.75,234.35 L300.20,230.85 L300.65,232.95 L301.10,229.24 L301.55,226.27 L302.00,231.15 L302.45,228.56 L302.90,231.56 L303.35,225.99 L303.80,224.41 L304.25,226.49 L304.70,228.61 L305.15,223.73 L305.60,221.13 L306.05,220.67 L306.50,220.78 L306.95,227.29 L307.40,223.59 L307.85,217.20 L308.30,223.36 L308.75,215.74 L309.20,212.51 L309.65,213.79 L310.10,210.29 L310.55,211.83 L311.00,212.76 L311.45,211.15 L311.90,213.19 L312.35,213.89 L312.80,212.72 L313.25,216.10 L313.70,216.11 L314.15,216.58 L314.60,219.19 L315.05,215.54 L315.50,220.80 L315.95,223.63 L316.40,226.25 L316.85,229.17 L317.30,225.99 L317.75,230.78 L318.20,235.55 L318.65,236.02 L319.10,236.76 L319.55,239.30 L320.00,238.32 L320.45,245.71 L320.90,244.64 L321.35,247.85 L321.80,252.88 L322.25,253.14 L322.70,256.02 L323.15,257.64 L323.60,261.80 L324.05,263.29 L324.50,268.07 L324.95,269.03 L325.40,268.59 L325.85,270.24 L326.30,273.19 L326.75,274.89 L327.20,274.16 L327.65,277.30 L328.10,276.94 L328.55,276.61 L329.00,277.34 L329.45,278.88 L329.90,279.63 L330.35,278.57 L330.80,279.40 L331.25,280.00 L332.00,280.30 L332.00,280.3 L286.70,280.3 Z" fill="#dfdfe1" stroke="#c4c4c6" stroke-width="0.5"/>
<path d="M286.70,280.00 L287.15,280.20 L287.60,279.70 L288.05,279.66 L288.50,279.96 L288.95,279.48 L289.40,279.79 L289.85,279.24 L290.30,279.21 L290.75,278.68 L291.20,279.06 L291.65,278.76 L292.10,278.34 L292.55,278.56 L293.00,278.41 L293.45,278.15 L293.90,277.90 L294.35,277.75 L294.80,276.59 L295.25,275.88 L295.70,275.37 L296.15,274.02 L296.60,274.19 L297.05,272.78 L297.50,272.68 L297.95,270.70 L298.40,270.88 L298.85,268.36 L299.30,267.27 L299.75,266.17 L300.20,264.11 L300.65,261.66 L301.10,259.70 L301.55,258.40 L302.00,253.87 L302.45,250.65 L302.90,247.44 L303.35,244.84 L303.80,240.69 L304.25,236.46 L304.70,234.39 L305.15,231.42 L305.60,224.33 L306.05,218.16 L306.50,214.24 L306.95,211.24 L307.40,210.73 L307.85,207.92 L308.30,204.54 L308.75,205.53 L309.20,203.36 L309.65,200.86 L310.10,198.98 L310.55,198.11 L311.00,194.98 L311.45,198.38 L311.90,198.52 L312.35,199.85 L312.80,202.44 L313.25,204.28 L313.70,209.80 L314.15,212.78 L314.60,214.54 L315.05,215.21 L315.50,215.57 L315.95,221.07 L316.40,220.76 L316.85,224.06 L317.30,225.52 L317.75,226.14 L318.20,226.11 L318.65,227.94 L319.10,227.95 L319.55,231.83 L320.00,230.58 L320.45,231.60 L320.90,233.68 L321.35,234.03 L321.80,236.01 L322.25,237.37 L322.70,236.94 L323.15,236.21 L323.60,231.04 L324.05,234.33 L324.50,231.33 L324.95,232.61 L325.40,232.28 L325.85,231.61 L326.30,233.29 L326.75,231.08 L327.20,231.58 L327.65,234.27 L328.10,232.28 L328.55,232.85 L329.00,233.01 L329.45,231.70 L329.90,233.86 L330.35,232.40 L330.80,231.76 L331.25,233.75 L331.70,231.51 L332.15,234.98 L332.60,235.09 L333.05,233.34 L333.50,235.72 L333.95,235.04 L334.40,237.30 L334.85,235.76 L335.30,237.02 L335.75,234.85 L336.20,236.60 L336.65,234.09 L337.10,235.28 L337.55,235.24 L338.00,235.75 L338.45,235.89 L338.90,237.99 L339.35,239.84 L339.80,237.27 L340.25,239.10 L340.70,239.52 L341.15,239.50 L341.60,243.39 L342.05,243.42 L342.50,244.62 L342.95,246.45 L343.40,246.41 L343.85,248.26 L344.30,250.34 L344.75,252.02 L345.20,251.89 L345.65,254.77 L346.10,255.22 L346.55,256.89 L347.00,260.34 L347.45,261.05 L347.90,261.48 L348.35,262.50 L348.80,263.47 L349.25,264.75 L349.70,265.84 L350.15,267.90 L350.60,268.95 L351.05,269.55 L351.50,271.37 L351.95,271.44 L352.40,273.47 L352.85,273.14 L353.30,274.25 L353.75,275.58 L354.20,274.87 L354.65,275.62 L355.10,276.22 L355.55,277.06 L356.00,277.34 L356.45,277.01 L356.90,277.90 L357.35,278.81 L357.80,278.30 L358.25,278.57 L358.70,278.51 L359.15,278.77 L359.60,279.08 L360.05,279.26 L360.50,279.12 L360.95,279.66 L361.40,279.26 L361.85,279.76 L362.30,279.95 L362.75,279.86 L363.20,280.02 L364.00,280.30" fill="none" stroke="#c01a3d" stroke-width="1" stroke-dasharray="1 1" stroke-linejoin="round"/>
<path d="M286.90,263.50 L287.35,265.17 L287.80,265.24 L288.25,264.68 L288.70,266.00 L289.15,267.12 L289.60,266.40 L290.05,266.37 L290.50,267.05 L290.95,268.08 L291.40,266.95 L291.85,266.15 L292.30,265.57 L292.75,264.58 L293.20,265.34 L293.65,265.35 L294.10,264.99 L294.55,264.18 L295.00,265.26 L295.45,263.88 L295.90,265.83 L296.35,263.45 L296.80,263.93 L297.25,262.90 L297.70,262.39 L298.15,263.32 L298.60,262.49 L299.05,262.12 L299.50,261.72 L299.95,262.47 L300.40,262.31 L300.85,262.67 L301.30,259.70 L301.75,261.17 L302.20,260.97 L302.65,261.55 L303.10,259.80 L303.55,260.51 L304.00,259.03 L304.45,259.19 L304.90,259.51 L305.35,258.83 L305.80,259.82 L306.25,259.08 L306.70,258.98 L307.15,259.16 L307.60,258.04 L308.05,257.87 L308.50,256.53 L308.95,259.07 L309.40,256.51 L309.85,255.96 L310.30,254.81 L310.75,253.21 L311.20,252.26 L311.65,251.58 L312.10,251.08 L312.55,249.45 L313.00,248.68 L313.45,249.57 L313.90,247.12 L314.35,245.85 L314.80,243.51 L315.25,240.78 L315.70,240.60 L316.15,240.30 L316.60,240.73 L317.05,238.98 L317.50,238.49 L317.95,236.14 L318.40,234.50 L318.85,231.47 L319.30,229.94 L319.75,230.04 L320.20,227.38 L320.65,225.55 L321.10,222.12 L321.55,218.19 L322.00,217.49 L322.45,218.69 L322.90,215.73 L323.35,213.97 L323.80,210.03 L324.25,208.81 L324.70,206.90 L325.15,203.75 L325.60,205.62 L326.05,206.04 L326.50,203.50 L326.95,206.38 L327.40,206.39 L327.85,206.57 L328.30,204.50 L328.75,203.89 L329.20,198.91 L329.65,197.36 L330.10,194.81 L330.55,196.99 L331.00,198.42 L331.45,198.88 L331.90,195.28 L332.35,199.79 L332.80,197.90 L333.25,199.72 L333.70,200.61 L334.15,202.75 L334.60,202.27 L335.05,202.52 L335.50,203.38 L335.95,203.32 L336.40,202.53 L336.85,203.06 L337.30,201.66 L337.75,201.79 L338.20,202.09 L338.65,201.63 L339.10,203.00 L339.55,206.68 L340.00,206.93 L340.45,209.11 L340.90,210.44 L341.35,213.26 L341.80,215.58 L342.25,216.38 L342.70,215.40 L343.15,212.14 L343.60,212.30 L344.05,213.94 L344.50,215.10 L344.95,216.20 L345.40,217.91 L345.85,220.38 L346.30,218.85 L346.75,220.55 L347.20,222.55 L347.65,224.24 L348.10,223.74 L348.55,228.83 L349.00,227.55 L349.45,231.71 L349.90,232.17 L350.35,236.11 L350.80,236.44 L351.25,237.96 L351.70,239.09 L352.15,241.02 L352.60,242.99 L353.05,242.91 L353.50,245.99 L353.95,247.25 L354.40,248.16 L354.85,250.82 L355.30,252.53 L355.75,253.74 L356.20,255.96 L356.65,257.90 L357.10,258.47 L357.55,259.89 L358.00,260.04 L358.45,263.11 L358.90,263.24 L359.35,265.15 L359.80,265.82 L360.25,266.71 L360.70,267.31 L361.15,267.94 L361.60,268.45 L362.05,270.48 L362.50,270.46 L362.95,271.22 L363.40,271.91 L363.85,273.13 L364.30,273.10 L364.75,274.07 L365.20,274.51 L365.65,275.32 L366.10,275.63 L366.55,276.12 L367.00,276.47 L367.45,277.12 L367.90,277.13 L368.35,277.33 L368.80,278.17 L369.25,277.97 L369.70,278.82 L370.15,278.77 L370.60,279.08 L371.05,279.17 L371.50,279.47 L371.95,279.69 L372.40,279.85 L372.85,280.01 L373.30,279.98 L373.75,280.18 L374.20,280.30" fill="none" stroke="#34528f" stroke-width="1" stroke-dasharray="1 1" stroke-linejoin="round"/>
<path d="M415.40,253.70 L415.85,254.48 L416.30,253.24 L416.75,252.65 L417.20,247.95 L417.65,247.65 L418.10,250.17 L418.55,252.34 L419.00,247.84 L419.45,247.35 L419.90,245.88 L420.35,244.51 L420.80,245.48 L421.25,241.91 L421.70,241.18 L422.15,241.72 L422.60,242.28 L423.05,241.66 L423.50,238.21 L423.95,241.51 L424.40,238.56 L424.85,239.14 L425.30,239.92 L425.75,234.46 L426.20,235.21 L426.65,234.32 L427.10,231.53 L427.55,236.57 L428.00,232.21 L428.45,230.47 L428.90,228.24 L429.35,232.23 L429.80,226.86 L430.25,227.45 L430.70,223.81 L431.15,223.68 L431.60,224.52 L432.05,219.60 L432.50,224.61 L432.95,224.93 L433.40,223.79 L433.85,224.51 L434.30,221.11 L434.75,225.31 L435.20,219.64 L435.65,217.79 L436.10,215.77 L436.55,219.09 L437.00,213.77 L437.45,219.07 L437.90,216.99 L438.35,221.35 L438.80,217.54 L439.25,217.01 L439.70,209.87 L440.15,211.29 L440.60,214.70 L441.05,208.66 L441.50,209.14 L441.95,213.55 L442.40,215.16 L442.85,218.42 L443.30,221.56 L443.75,227.29 L444.20,225.32 L444.65,224.27 L445.10,226.42 L445.55,232.11 L446.00,234.42 L446.45,234.32 L446.90,232.91 L447.35,235.39 L447.80,239.34 L448.25,239.36 L448.70,242.73 L449.15,243.35 L449.60,247.38 L450.05,251.82 L450.50,251.48 L450.95,252.86 L451.40,258.70 L451.85,259.63 L452.30,260.67 L452.75,264.63 L453.20,267.09 L453.65,265.93 L454.10,269.60 L454.55,271.50 L455.00,274.26 L455.45,272.91 L455.90,276.50 L456.35,276.47 L456.80,276.53 L457.25,277.18 L457.70,279.08 L458.15,279.25 L458.60,279.24 L459.05,280.18 L459.50,279.81 L460.00,280.30 L460.00,280.3 L415.40,280.3 Z" fill="#dfdfe1" stroke="#c4c4c6" stroke-width="0.5"/>
<path d="M415.40,277.00 L415.85,276.44 L416.30,275.98 L416.75,275.81 L417.20,275.35 L417.65,274.53 L418.10,275.10 L418.55,274.43 L419.00,274.42 L419.45,273.26 L419.90,273.66 L420.35,272.79 L420.80,272.50 L421.25,272.08 L421.70,270.63 L422.15,271.24 L422.60,269.83 L423.05,269.73 L423.50,268.89 L423.95,269.34 L424.40,268.05 L424.85,267.63 L425.30,268.07 L425.75,266.89 L426.20,266.65 L426.65,266.07 L427.10,264.57 L427.55,265.68 L428.00,266.00 L428.45,265.60 L428.90,264.09 L429.35,263.80 L429.80,262.72 L430.25,261.64 L430.70,259.98 L431.15,260.64 L431.60,259.89 L432.05,260.27 L432.50,258.13 L432.95,256.45 L433.40,255.52 L433.85,257.86 L434.30,254.04 L434.75,252.13 L435.20,251.74 L435.65,253.07 L436.10,250.63 L436.55,248.47 L437.00,247.45 L437.45,247.66 L437.90,246.55 L438.35,243.11 L438.80,244.71 L439.25,239.28 L439.70,238.87 L440.15,236.31 L440.60,236.26 L441.05,232.74 L441.50,228.89 L441.95,230.60 L442.40,224.01 L442.85,227.65 L443.30,225.22 L443.75,221.10 L444.20,218.22 L444.65,216.31 L445.10,217.15 L445.55,215.96 L446.00,214.82 L446.45,213.28 L446.90,214.57 L447.35,206.48 L447.80,205.97 L448.25,207.48 L448.70,210.17 L449.15,209.68 L449.60,210.42 L450.05,210.82 L450.50,209.14 L450.95,214.18 L451.40,211.35 L451.85,214.01 L452.30,213.16 L452.75,210.46 L453.20,215.01 L453.65,213.68 L454.10,214.84 L454.55,212.89 L455.00,216.59 L455.45,219.47 L455.90,217.74 L456.35,220.88 L456.80,222.59 L457.25,221.33 L457.70,224.92 L458.15,224.75 L458.60,224.58 L459.05,224.59 L459.50,226.28 L459.95,224.28 L460.40,222.80 L460.85,227.10 L461.30,224.19 L461.75,230.45 L462.20,225.76 L462.65,228.45 L463.10,227.32 L463.55,227.58 L464.00,227.58 L464.45,228.19 L464.90,227.33 L465.35,225.30 L465.80,225.99 L466.25,228.61 L466.70,228.31 L467.15,228.01 L467.60,228.19 L468.05,223.19 L468.50,224.32 L468.95,225.23 L469.40,227.04 L469.85,228.73 L470.30,226.23 L470.75,227.72 L471.20,230.51 L471.65,228.02 L472.10,231.32 L472.55,229.01 L473.00,230.62 L473.45,229.15 L473.90,227.59 L474.35,228.29 L474.80,228.07 L475.25,231.32 L475.70,228.47 L476.15,229.26 L476.60,231.61 L477.05,231.40 L477.50,233.58 L477.95,233.61 L478.40,236.10 L478.85,235.32 L479.30,237.16 L479.75,237.67 L480.20,239.83 L480.65,241.20 L481.10,243.83 L481.55,244.84 L482.00,246.09 L482.45,246.54 L482.90,250.11 L483.35,248.15 L483.80,251.86 L484.25,251.79 L484.70,252.23 L485.15,253.49 L485.60,251.93 L486.05,254.45 L486.50,253.46 L486.95,254.58 L487.40,256.93 L487.85,256.73 L488.30,256.54 L488.75,258.75 L489.20,259.01 L489.65,260.26 L490.10,260.36 L490.55,261.38 L491.00,261.60 L491.45,261.42 L491.90,261.71 L492.35,263.37 L492.80,263.92 L493.25,264.01 L493.70,265.52 L494.15,266.70 L494.60,265.67 L495.05,267.73 L495.50,266.83 L495.95,268.63 L496.40,267.13 L496.85,269.56 L497.30,268.73 L497.75,268.77 L498.20,270.81 L498.65,269.72 L499.10,271.60 L499.55,272.56 L500.00,271.43 L500.45,271.78 L500.90,272.63 L501.35,274.24 L501.80,273.22 L502.25,273.69 L502.70,274.05 L503.15,274.34 L503.60,275.40 L504.05,275.13 L504.50,274.39 L504.95,274.86 L505.40,276.02 L505.85,276.47 L506.30,276.33 L506.75,276.39 L507.20,276.84 L507.65,277.80 L508.10,277.66 L508.55,277.97 L509.00,277.92 L509.45,278.32 L509.90,278.78 L510.35,278.89 L510.80,279.47 L511.25,279.38 L511.70,279.93 L512.50,280.30" fill="none" stroke="#c01a3d" stroke-width="1" stroke-dasharray="1 1" stroke-linejoin="round"/>
<path d="M414.80,263.50 L415.25,264.62 L415.70,265.10 L416.15,266.22 L416.60,265.78 L417.05,266.46 L417.50,266.83 L417.95,266.60 L418.40,268.08 L418.85,267.17 L419.30,266.72 L419.75,266.51 L420.20,265.57 L420.65,264.68 L421.10,265.44 L421.55,265.58 L422.00,265.29 L422.45,264.80 L422.90,264.42 L423.35,265.08 L423.80,263.73 L424.25,264.47 L424.70,263.08 L425.15,262.93 L425.60,262.54 L426.05,261.39 L426.50,262.59 L426.95,262.36 L427.40,261.80 L427.85,261.40 L428.30,262.49 L428.75,261.32 L429.20,261.70 L429.65,260.67 L430.10,260.01 L430.55,260.58 L431.00,260.45 L431.45,260.06 L431.90,261.77 L432.35,259.26 L432.80,259.17 L433.25,259.20 L433.70,259.34 L434.15,259.33 L434.60,258.71 L435.05,257.55 L435.50,258.11 L435.95,256.90 L436.40,259.17 L436.85,257.07 L437.30,255.85 L437.75,255.32 L438.20,255.62 L438.65,253.99 L439.10,251.67 L439.55,252.55 L440.00,251.45 L440.45,250.66 L440.90,249.38 L441.35,247.59 L441.80,246.44 L442.25,246.34 L442.70,241.26 L443.15,241.42 L443.60,241.16 L444.05,238.97 L444.50,240.01 L444.95,239.88 L445.40,238.21 L445.85,237.15 L446.30,236.08 L446.75,233.49 L447.20,230.36 L447.65,228.88 L448.10,228.28 L448.55,221.73 L449.00,223.47 L449.45,220.24 L449.90,218.25 L450.35,215.37 L450.80,214.65 L451.25,211.95 L451.70,208.24 L452.15,208.70 L452.60,208.52 L453.05,205.54 L453.50,205.55 L453.95,205.44 L454.40,205.68 L454.85,206.41 L455.30,205.77 L455.75,203.06 L456.20,202.83 L456.65,202.38 L457.10,197.92 L457.55,197.87 L458.00,194.59 L458.45,197.63 L458.90,196.82 L459.35,197.54 L459.80,201.06 L460.25,199.36 L460.70,199.51 L461.15,198.04 L461.60,203.67 L462.05,201.15 L462.50,201.58 L462.95,202.94 L463.40,202.39 L463.85,203.34 L464.30,202.31 L464.75,201.58 L465.20,200.89 L465.65,200.56 L466.10,202.60 L466.55,204.12 L467.00,205.28 L467.45,205.66 L467.90,209.59 L468.35,210.89 L468.80,211.80 L469.25,213.90 L469.70,216.18 L470.15,218.76 L470.60,214.88 L471.05,213.43 L471.50,212.94 L471.95,216.88 L472.40,215.93 L472.85,215.98 L473.30,216.87 L473.75,217.11 L474.20,218.46 L474.65,221.86 L475.10,221.29 L475.55,223.55 L476.00,225.90 L476.45,225.43 L476.90,229.95 L477.35,233.14 L477.80,234.82 L478.25,236.21 L478.70,235.51 L479.15,237.15 L479.60,238.01 L480.05,240.48 L480.50,242.85 L480.95,242.97 L481.40,245.86 L481.85,247.20 L482.30,248.73 L482.75,250.37 L483.20,251.34 L483.65,254.42 L484.10,255.46 L484.55,257.07 L485.00,259.20 L485.45,260.43 L485.90,261.23 L486.35,262.22 L486.80,263.62 L487.25,264.45 L487.70,265.60 L488.15,266.77 L488.60,267.24 L489.05,268.84 L489.50,269.89 L489.95,270.33 L490.40,271.63 L490.85,271.84 L491.30,272.52 L491.75,273.04 L492.20,273.45 L492.65,274.31 L493.10,274.77 L493.55,275.76 L494.00,275.79 L494.45,276.67 L494.90,276.66 L495.35,277.76 L495.80,277.55 L496.25,277.61 L496.70,278.48 L497.15,278.34 L497.60,278.55 L498.05,278.85 L498.50,279.38 L498.95,279.34 L499.40,279.49 L499.85,279.75 L500.30,279.70 L500.75,279.91 L501.20,280.03 L501.65,280.19 L502.10,280.30" fill="none" stroke="#34528f" stroke-width="1" stroke-dasharray="1 1" stroke-linejoin="round"/>
<text x="107.5" y="50.0" font-size="8.4" fill="#34528f" stroke="#34528f">730</text>
<text x="107.5" y="59.9" font-size="8.4" fill="#c01a3d" stroke="#c01a3d">665</text>
<text x="231.6" y="50.0" font-size="8.4" fill="#34528f" stroke="#34528f">3390</text>
<text x="231.6" y="59.9" font-size="8.4" fill="#c01a3d" stroke="#c01a3d">3668</text>
<text x="364.4" y="50.0" font-size="8.4" fill="#34528f" stroke="#34528f">730</text>
<text x="364.4" y="59.9" font-size="8.4" fill="#c01a3d" stroke="#c01a3d">665</text>
<text x="493.7" y="50.0" font-size="8.4" fill="#34528f" stroke="#34528f">730</text>
<text x="493.7" y="59.9" font-size="8.4" fill="#c01a3d" stroke="#c01a3d">620</text>
<text x="107.1" y="191.0" font-size="8.4" fill="#34528f" stroke="#34528f">408</text>
<text x="107.1" y="200.9" font-size="8.4" fill="#c01a3d" stroke="#c01a3d">85</text>
<text x="236.1" y="191.0" font-size="8.4" fill="#34528f" stroke="#34528f">219</text>
<text x="236.1" y="200.9" font-size="8.4" fill="#c01a3d" stroke="#c01a3d">313</text>
<text x="364.7" y="191.0" font-size="8.4" fill="#34528f" stroke="#34528f">408</text>
<text x="364.7" y="200.9" font-size="8.4" fill="#c01a3d" stroke="#c01a3d">280</text>
<text x="494.1" y="191.0" font-size="8.4" fill="#34528f" stroke="#34528f">408</text>
<text x="494.1" y="200.9" font-size="8.4" fill="#c01a3d" stroke="#c01a3d">440</text>
<path d="M28.6,42.0 H126.0 V139.5 H28.6 Z" fill="none" stroke="#1e1e1e" stroke-width="1.25"/>
<line x1="25.60" y1="139.50" x2="28.6" y2="139.50" stroke="#1e1e1e" stroke-width="0.6"/>
<text x="22.10" y="142.00" font-size="8.5" fill="#2b2b2b" stroke="#2b2b2b" text-anchor="end">0</text>
<line x1="27.40" y1="134.85" x2="28.6" y2="134.85" stroke="#1e1e1e" stroke-width="0.6"/>
<line x1="27.40" y1="130.20" x2="28.6" y2="130.20" stroke="#1e1e1e" stroke-width="0.6"/>
<line x1="27.40" y1="125.55" x2="28.6" y2="125.55" stroke="#1e1e1e" stroke-width="0.6"/>
<line x1="25.60" y1="120.90" x2="28.6" y2="120.90" stroke="#1e1e1e" stroke-width="0.6"/>
<text x="22.10" y="123.40" font-size="8.5" fill="#2b2b2b" stroke="#2b2b2b" text-anchor="end">20</text>
<line x1="27.40" y1="116.25" x2="28.6" y2="116.25" stroke="#1e1e1e" stroke-width="0.6"/>
<line x1="27.40" y1="111.60" x2="28.6" y2="111.60" stroke="#1e1e1e" stroke-width="0.6"/>
<line x1="27.40" y1="106.95" x2="28.6" y2="106.95" stroke="#1e1e1e" stroke-width="0.6"/>
<line x1="25.60" y1="102.30" x2="28.6" y2="102.30" stroke="#1e1e1e" stroke-width="0.6"/>
<text x="22.10" y="104.80" font-size="8.5" fill="#2b2b2b" stroke="#2b2b2b" text-anchor="end">40</text>
<line x1="27.40" y1="97.65" x2="28.6" y2="97.65" stroke="#1e1e1e" stroke-width="0.6"/>
<line x1="27.40" y1="93.00" x2="28.6" y2="93.00" stroke="#1e1e1e" stroke-width="0.6"/>
<line x1="27.40" y1="88.35" x2="28.6" y2="88.35" stroke="#1e1e1e" stroke-width="0.6"/>
<line x1="25.60" y1="83.70" x2="28.6" y2="83.70" stroke="#1e1e1e" stroke-width="0.6"/>
<text x="22.10" y="86.20" font-size="8.5" fill="#2b2b2b" stroke="#2b2b2b" text-anchor="end">60</text>
<line x1="27.40" y1="79.05" x2="28.6" y2="79.05" stroke="#1e1e1e" stroke-width="0.6"/>
<line x1="27.40" y1="74.40" x2="28.6" y2="74.40" stroke="#1e1e1e" stroke-width="0.6"/>
<line x1="27.40" y1="69.75" x2="28.6" y2="69.75" stroke="#1e1e1e" stroke-width="0.6"/>
<line x1="25.60" y1="65.10" x2="28.6" y2="65.10" stroke="#1e1e1e" stroke-width="0.6"/>
<text x="22.10" y="67.60" font-size="8.5" fill="#2b2b2b" stroke="#2b2b2b" text-anchor="end">80</text>
<line x1="27.40" y1="60.45" x2="28.6" y2="60.45" stroke="#1e1e1e" stroke-width="0.6"/>
<line x1="27.40" y1="55.80" x2="28.6" y2="55.80" stroke="#1e1e1e" stroke-width="0.6"/>
<line x1="27.40" y1="51.15" x2="28.6" y2="51.15" stroke="#1e1e1e" stroke-width="0.6"/>
<line x1="25.60" y1="46.50" x2="28.6" y2="46.50" stroke="#1e1e1e" stroke-width="0.6"/>
<text x="22.10" y="49.00" font-size="8.5" fill="#2b2b2b" stroke="#2b2b2b" text-anchor="end">100</text>
<line x1="45.30" y1="139.5" x2="45.30" y2="142.70" stroke="#000" stroke-width="0.85"/>
<line x1="37.00" y1="139.5" x2="37.00" y2="142.70" stroke="#000" stroke-width="0.85"/>
<line x1="53.50" y1="139.5" x2="53.50" y2="142.70" stroke="#000" stroke-width="0.85"/>
<line x1="83.20" y1="139.5" x2="83.20" y2="142.70" stroke="#000" stroke-width="0.85"/>
<line x1="113.30" y1="139.5" x2="113.30" y2="142.70" stroke="#000" stroke-width="0.85"/>
<line x1="40.30" y1="139.5" x2="40.30" y2="141.50" stroke="#000" stroke-width="0.85"/>
<line x1="43.70" y1="139.5" x2="43.70" y2="141.50" stroke="#000" stroke-width="0.85"/>
<line x1="44.10" y1="139.5" x2="44.10" y2="141.50" stroke="#000" stroke-width="0.85"/>
<line x1="44.50" y1="139.5" x2="44.50" y2="141.50" stroke="#000" stroke-width="0.85"/>
<line x1="44.90" y1="139.5" x2="44.90" y2="141.50" stroke="#000" stroke-width="0.85"/>
<line x1="45.70" y1="139.5" x2="45.70" y2="141.50" stroke="#000" stroke-width="0.85"/>
<line x1="46.10" y1="139.5" x2="46.10" y2="141.50" stroke="#000" stroke-width="0.85"/>
<line x1="46.50" y1="139.5" x2="46.50" y2="141.50" stroke="#000" stroke-width="0.85"/>
<line x1="46.80" y1="139.5" x2="46.80" y2="141.50" stroke="#000" stroke-width="0.85"/>
<line x1="49.40" y1="139.5" x2="49.40" y2="141.50" stroke="#000" stroke-width="0.85"/>
<line x1="60.10" y1="139.5" x2="60.10" y2="141.50" stroke="#000" stroke-width="0.85"/>
<line x1="65.90" y1="139.5" x2="65.90" y2="141.50" stroke="#000" stroke-width="0.85"/>
<line x1="69.60" y1="139.5" x2="69.60" y2="141.50" stroke="#000" stroke-width="0.85"/>
<line x1="73.10" y1="139.5" x2="73.10" y2="141.50" stroke="#000" stroke-width="0.85"/>
<line x1="75.40" y1="139.5" x2="75.40" y2="141.50" stroke="#000" stroke-width="0.85"/>
<line x1="77.70" y1="139.5" x2="77.70" y2="141.50" stroke="#000" stroke-width="0.85"/>
<line x1="79.50" y1="139.5" x2="79.50" y2="141.50" stroke="#000" stroke-width="0.85"/>
<line x1="81.40" y1="139.5" x2="81.40" y2="141.50" stroke="#000" stroke-width="0.85"/>
<line x1="92.26" y1="139.5" x2="92.26" y2="141.50" stroke="#000" stroke-width="0.85"/>
<line x1="97.56" y1="139.5" x2="97.56" y2="141.50" stroke="#000" stroke-width="0.85"/>
<line x1="101.32" y1="139.5" x2="101.32" y2="141.50" stroke="#000" stroke-width="0.85"/>
<line x1="104.24" y1="139.5" x2="104.24" y2="141.50" stroke="#000" stroke-width="0.85"/>
<line x1="106.62" y1="139.5" x2="106.62" y2="141.50" stroke="#000" stroke-width="0.85"/>
<line x1="108.64" y1="139.5" x2="108.64" y2="141.50" stroke="#000" stroke-width="0.85"/>
<line x1="110.38" y1="139.5" x2="110.38" y2="141.50" stroke="#000" stroke-width="0.85"/>
<line x1="111.92" y1="139.5" x2="111.92" y2="141.50" stroke="#000" stroke-width="0.85"/>
<line x1="122.36" y1="139.5" x2="122.36" y2="141.50" stroke="#000" stroke-width="0.85"/>
<text x="46.20" y="153.20" font-size="7.9" fill="#2b2b2b" stroke="#2b2b2b" text-anchor="middle">0</text>
<text x="83.40" y="153.20" font-size="7.8" fill="#2b2b2b" stroke="#2b2b2b" text-anchor="middle">10<tspan font-size="5.6" dy="-2.9" fill="#555" stroke="none">3</tspan></text>
<text x="113.50" y="153.20" font-size="7.8" fill="#2b2b2b" stroke="#2b2b2b" text-anchor="middle">10<tspan font-size="5.6" dy="-2.9" fill="#555" stroke="none">4</tspan></text>
<path d="M158.0,42.0 H255.5 V139.5 H158.0 Z" fill="none" stroke="#1e1e1e" stroke-width="1.25"/>
<line x1="155.00" y1="139.50" x2="158.0" y2="139.50" stroke="#1e1e1e" stroke-width="0.6"/>
<text x="151.50" y="142.00" font-size="8.5" fill="#2b2b2b" stroke="#2b2b2b" text-anchor="end">0</text>
<line x1="156.80" y1="134.85" x2="158.0" y2="134.85" stroke="#1e1e1e" stroke-width="0.6"/>
<line x1="156.80" y1="130.20" x2="158.0" y2="130.20" stroke="#1e1e1e" stroke-width="0.6"/>
<line x1="156.80" y1="125.55" x2="158.0" y2="125.55" stroke="#1e1e1e" stroke-width="0.6"/>
<line x1="155.00" y1="120.90" x2="158.0" y2="120.90" stroke="#1e1e1e" stroke-width="0.6"/>
<text x="151.50" y="123.40" font-size="8.5" fill="#2b2b2b" stroke="#2b2b2b" text-anchor="end">20</text>
<line x1="156.80" y1="116.25" x2="158.0" y2="116.25" stroke="#1e1e1e" stroke-width="0.6"/>
<line x1="156.80" y1="111.60" x2="158.0" y2="111.60" stroke="#1e1e1e" stroke-width="0.6"/>
<line x1="156.80" y1="106.95" x2="158.0" y2="106.95" stroke="#1e1e1e" stroke-width="0.6"/>
<line x1="155.00" y1="102.30" x2="158.0" y2="102.30" stroke="#1e1e1e" stroke-width="0.6"/>
<text x="151.50" y="104.80" font-size="8.5" fill="#2b2b2b" stroke="#2b2b2b" text-anchor="end">40</text>
<line x1="156.80" y1="97.65" x2="158.0" y2="97.65" stroke="#1e1e1e" stroke-width="0.6"/>
<line x1="156.80" y1="93.00" x2="158.0" y2="93.00" stroke="#1e1e1e" stroke-width="0.6"/>
<line x1="156.80" y1="88.35" x2="158.0" y2="88.35" stroke="#1e1e1e" stroke-width="0.6"/>
<line x1="155.00" y1="83.70" x2="158.0" y2="83.70" stroke="#1e1e1e" stroke-width="0.6"/>
<text x="151.50" y="86.20" font-size="8.5" fill="#2b2b2b" stroke="#2b2b2b" text-anchor="end">60</text>
<line x1="156.80" y1="79.05" x2="158.0" y2="79.05" stroke="#1e1e1e" stroke-width="0.6"/>
<line x1="156.80" y1="74.40" x2="158.0" y2="74.40" stroke="#1e1e1e" stroke-width="0.6"/>
<line x1="156.80" y1="69.75" x2="158.0" y2="69.75" stroke="#1e1e1e" stroke-width="0.6"/>
<line x1="155.00" y1="65.10" x2="158.0" y2="65.10" stroke="#1e1e1e" stroke-width="0.6"/>
<text x="151.50" y="67.60" font-size="8.5" fill="#2b2b2b" stroke="#2b2b2b" text-anchor="end">80</text>
<line x1="156.80" y1="60.45" x2="158.0" y2="60.45" stroke="#1e1e1e" stroke-width="0.6"/>
<line x1="156.80" y1="55.80" x2="158.0" y2="55.80" stroke="#1e1e1e" stroke-width="0.6"/>
<line x1="156.80" y1="51.15" x2="158.0" y2="51.15" stroke="#1e1e1e" stroke-width="0.6"/>
<line x1="155.00" y1="46.50" x2="158.0" y2="46.50" stroke="#1e1e1e" stroke-width="0.6"/>
<text x="151.50" y="49.00" font-size="8.5" fill="#2b2b2b" stroke="#2b2b2b" text-anchor="end">100</text>
<line x1="171.80" y1="139.5" x2="171.80" y2="142.70" stroke="#000" stroke-width="0.85"/>
<line x1="165.20" y1="139.5" x2="165.20" y2="142.70" stroke="#000" stroke-width="0.85"/>
<line x1="179.70" y1="139.5" x2="179.70" y2="142.70" stroke="#000" stroke-width="0.85"/>
<line x1="205.70" y1="139.5" x2="205.70" y2="142.70" stroke="#000" stroke-width="0.85"/>
<line x1="231.90" y1="139.5" x2="231.90" y2="142.70" stroke="#000" stroke-width="0.85"/>
<line x1="159.20" y1="139.5" x2="159.20" y2="141.50" stroke="#000" stroke-width="0.85"/>
<line x1="168.40" y1="139.5" x2="168.40" y2="141.50" stroke="#000" stroke-width="0.85"/>
<line x1="170.60" y1="139.5" x2="170.60" y2="141.50" stroke="#000" stroke-width="0.85"/>
<line x1="171.20" y1="139.5" x2="171.20" y2="141.50" stroke="#000" stroke-width="0.85"/>
<line x1="172.40" y1="139.5" x2="172.40" y2="141.50" stroke="#000" stroke-width="0.85"/>
<line x1="173.00" y1="139.5" x2="173.00" y2="141.50" stroke="#000" stroke-width="0.85"/>
<line x1="176.50" y1="139.5" x2="176.50" y2="141.50" stroke="#000" stroke-width="0.85"/>
<line x1="186.30" y1="139.5" x2="186.30" y2="141.50" stroke="#000" stroke-width="0.85"/>
<line x1="189.50" y1="139.5" x2="189.50" y2="141.50" stroke="#000" stroke-width="0.85"/>
<line x1="192.90" y1="139.5" x2="192.90" y2="141.50" stroke="#000" stroke-width="0.85"/>
<line x1="196.10" y1="139.5" x2="196.10" y2="141.50" stroke="#000" stroke-width="0.85"/>
<line x1="199.00" y1="139.5" x2="199.00" y2="141.50" stroke="#000" stroke-width="0.85"/>
<line x1="201.30" y1="139.5" x2="201.30" y2="141.50" stroke="#000" stroke-width="0.85"/>
<line x1="203.30" y1="139.5" x2="203.30" y2="141.50" stroke="#000" stroke-width="0.85"/>
<line x1="213.59" y1="139.5" x2="213.59" y2="141.50" stroke="#000" stroke-width="0.85"/>
<line x1="218.20" y1="139.5" x2="218.20" y2="141.50" stroke="#000" stroke-width="0.85"/>
<line x1="221.47" y1="139.5" x2="221.47" y2="141.50" stroke="#000" stroke-width="0.85"/>
<line x1="224.01" y1="139.5" x2="224.01" y2="141.50" stroke="#000" stroke-width="0.85"/>
<line x1="226.09" y1="139.5" x2="226.09" y2="141.50" stroke="#000" stroke-width="0.85"/>
<line x1="227.84" y1="139.5" x2="227.84" y2="141.50" stroke="#000" stroke-width="0.85"/>
<line x1="229.36" y1="139.5" x2="229.36" y2="141.50" stroke="#000" stroke-width="0.85"/>
<line x1="230.70" y1="139.5" x2="230.70" y2="141.50" stroke="#000" stroke-width="0.85"/>
<line x1="239.79" y1="139.5" x2="239.79" y2="141.50" stroke="#000" stroke-width="0.85"/>
<line x1="244.40" y1="139.5" x2="244.40" y2="141.50" stroke="#000" stroke-width="0.85"/>
<line x1="247.67" y1="139.5" x2="247.67" y2="141.50" stroke="#000" stroke-width="0.85"/>
<line x1="250.21" y1="139.5" x2="250.21" y2="141.50" stroke="#000" stroke-width="0.85"/>
<line x1="252.29" y1="139.5" x2="252.29" y2="141.50" stroke="#000" stroke-width="0.85"/>
<line x1="254.04" y1="139.5" x2="254.04" y2="141.50" stroke="#000" stroke-width="0.85"/>
<text x="173.30" y="153.20" font-size="7.9" fill="#2b2b2b" stroke="#2b2b2b" text-anchor="middle">0</text>
<text x="206.10" y="153.20" font-size="7.8" fill="#2b2b2b" stroke="#2b2b2b" text-anchor="middle">10<tspan font-size="5.6" dy="-2.9" fill="#555" stroke="none">3</tspan></text>
<text x="232.30" y="153.20" font-size="7.8" fill="#2b2b2b" stroke="#2b2b2b" text-anchor="middle">10<tspan font-size="5.6" dy="-2.9" fill="#555" stroke="none">4</tspan></text>
<path d="M286.3,42.0 H384.0 V139.5 H286.3 Z" fill="none" stroke="#1e1e1e" stroke-width="1.25"/>
<line x1="283.30" y1="139.50" x2="286.3" y2="139.50" stroke="#1e1e1e" stroke-width="0.6"/>
<text x="279.80" y="142.00" font-size="8.5" fill="#2b2b2b" stroke="#2b2b2b" text-anchor="end">0</text>
<line x1="285.10" y1="134.85" x2="286.3" y2="134.85" stroke="#1e1e1e" stroke-width="0.6"/>
<line x1="285.10" y1="130.20" x2="286.3" y2="130.20" stroke="#1e1e1e" stroke-width="0.6"/>
<line x1="285.10" y1="125.55" x2="286.3" y2="125.55" stroke="#1e1e1e" stroke-width="0.6"/>
<line x1="283.30" y1="120.90" x2="286.3" y2="120.90" stroke="#1e1e1e" stroke-width="0.6"/>
<text x="279.80" y="123.40" font-size="8.5" fill="#2b2b2b" stroke="#2b2b2b" text-anchor="end">20</text>
<line x1="285.10" y1="116.25" x2="286.3" y2="116.25" stroke="#1e1e1e" stroke-width="0.6"/>
<line x1="285.10" y1="111.60" x2="286.3" y2="111.60" stroke="#1e1e1e" stroke-width="0.6"/>
<line x1="285.10" y1="106.95" x2="286.3" y2="106.95" stroke="#1e1e1e" stroke-width="0.6"/>
<line x1="283.30" y1="102.30" x2="286.3" y2="102.30" stroke="#1e1e1e" stroke-width="0.6"/>
<text x="279.80" y="104.80" font-size="8.5" fill="#2b2b2b" stroke="#2b2b2b" text-anchor="end">40</text>
<line x1="285.10" y1="97.65" x2="286.3" y2="97.65" stroke="#1e1e1e" stroke-width="0.6"/>
<line x1="285.10" y1="93.00" x2="286.3" y2="93.00" stroke="#1e1e1e" stroke-width="0.6"/>
<line x1="285.10" y1="88.35" x2="286.3" y2="88.35" stroke="#1e1e1e" stroke-width="0.6"/>
<line x1="283.30" y1="83.70" x2="286.3" y2="83.70" stroke="#1e1e1e" stroke-width="0.6"/>
<text x="279.80" y="86.20" font-size="8.5" fill="#2b2b2b" stroke="#2b2b2b" text-anchor="end">60</text>
<line x1="285.10" y1="79.05" x2="286.3" y2="79.05" stroke="#1e1e1e" stroke-width="0.6"/>
<line x1="285.10" y1="74.40" x2="286.3" y2="74.40" stroke="#1e1e1e" stroke-width="0.6"/>
<line x1="285.10" y1="69.75" x2="286.3" y2="69.75" stroke="#1e1e1e" stroke-width="0.6"/>
<line x1="283.30" y1="65.10" x2="286.3" y2="65.10" stroke="#1e1e1e" stroke-width="0.6"/>
<text x="279.80" y="67.60" font-size="8.5" fill="#2b2b2b" stroke="#2b2b2b" text-anchor="end">80</text>
<line x1="285.10" y1="60.45" x2="286.3" y2="60.45" stroke="#1e1e1e" stroke-width="0.6"/>
<line x1="285.10" y1="55.80" x2="286.3" y2="55.80" stroke="#1e1e1e" stroke-width="0.6"/>
<line x1="285.10" y1="51.15" x2="286.3" y2="51.15" stroke="#1e1e1e" stroke-width="0.6"/>
<line x1="283.30" y1="46.50" x2="286.3" y2="46.50" stroke="#1e1e1e" stroke-width="0.6"/>
<text x="279.80" y="49.00" font-size="8.5" fill="#2b2b2b" stroke="#2b2b2b" text-anchor="end">100</text>
<line x1="303.40" y1="139.5" x2="303.40" y2="142.70" stroke="#000" stroke-width="0.85"/>
<line x1="295.10" y1="139.5" x2="295.10" y2="142.70" stroke="#000" stroke-width="0.85"/>
<line x1="311.60" y1="139.5" x2="311.60" y2="142.70" stroke="#000" stroke-width="0.85"/>
<line x1="341.30" y1="139.5" x2="341.30" y2="142.70" stroke="#000" stroke-width="0.85"/>
<line x1="371.40" y1="139.5" x2="371.40" y2="142.70" stroke="#000" stroke-width="0.85"/>
<line x1="298.40" y1="139.5" x2="298.40" y2="141.50" stroke="#000" stroke-width="0.85"/>
<line x1="301.80" y1="139.5" x2="301.80" y2="141.50" stroke="#000" stroke-width="0.85"/>
<line x1="302.20" y1="139.5" x2="302.20" y2="141.50" stroke="#000" stroke-width="0.85"/>
<line x1="302.60" y1="139.5" x2="302.60" y2="141.50" stroke="#000" stroke-width="0.85"/>
<line x1="303.00" y1="139.5" x2="303.00" y2="141.50" stroke="#000" stroke-width="0.85"/>
<line x1="303.80" y1="139.5" x2="303.80" y2="141.50" stroke="#000" stroke-width="0.85"/>
<line x1="304.20" y1="139.5" x2="304.20" y2="141.50" stroke="#000" stroke-width="0.85"/>
<line x1="304.60" y1="139.5" x2="304.60" y2="141.50" stroke="#000" stroke-width="0.85"/>
<line x1="304.90" y1="139.5" x2="304.90" y2="141.50" stroke="#000" stroke-width="0.85"/>
<line x1="307.50" y1="139.5" x2="307.50" y2="141.50" stroke="#000" stroke-width="0.85"/>
<line x1="318.20" y1="139.5" x2="318.20" y2="141.50" stroke="#000" stroke-width="0.85"/>
<line x1="324.00" y1="139.5" x2="324.00" y2="141.50" stroke="#000" stroke-width="0.85"/>
<line x1="327.70" y1="139.5" x2="327.70" y2="141.50" stroke="#000" stroke-width="0.85"/>
<line x1="331.20" y1="139.5" x2="331.20" y2="141.50" stroke="#000" stroke-width="0.85"/>
<line x1="333.50" y1="139.5" x2="333.50" y2="141.50" stroke="#000" stroke-width="0.85"/>
<line x1="335.80" y1="139.5" x2="335.80" y2="141.50" stroke="#000" stroke-width="0.85"/>
<line x1="337.60" y1="139.5" x2="337.60" y2="141.50" stroke="#000" stroke-width="0.85"/>
<line x1="339.50" y1="139.5" x2="339.50" y2="141.50" stroke="#000" stroke-width="0.85"/>
<line x1="350.36" y1="139.5" x2="350.36" y2="141.50" stroke="#000" stroke-width="0.85"/>
<line x1="355.66" y1="139.5" x2="355.66" y2="141.50" stroke="#000" stroke-width="0.85"/>
<line x1="359.42" y1="139.5" x2="359.42" y2="141.50" stroke="#000" stroke-width="0.85"/>
<line x1="362.34" y1="139.5" x2="362.34" y2="141.50" stroke="#000" stroke-width="0.85"/>
<line x1="364.72" y1="139.5" x2="364.72" y2="141.50" stroke="#000" stroke-width="0.85"/>
<line x1="366.74" y1="139.5" x2="366.74" y2="141.50" stroke="#000" stroke-width="0.85"/>
<line x1="368.48" y1="139.5" x2="368.48" y2="141.50" stroke="#000" stroke-width="0.85"/>
<line x1="370.02" y1="139.5" x2="370.02" y2="141.50" stroke="#000" stroke-width="0.85"/>
<line x1="380.46" y1="139.5" x2="380.46" y2="141.50" stroke="#000" stroke-width="0.85"/>
<text x="304.30" y="153.20" font-size="7.9" fill="#2b2b2b" stroke="#2b2b2b" text-anchor="middle">0</text>
<text x="341.50" y="153.20" font-size="7.8" fill="#2b2b2b" stroke="#2b2b2b" text-anchor="middle">10<tspan font-size="5.6" dy="-2.9" fill="#555" stroke="none">3</tspan></text>
<text x="371.60" y="153.20" font-size="7.8" fill="#2b2b2b" stroke="#2b2b2b" text-anchor="middle">10<tspan font-size="5.6" dy="-2.9" fill="#555" stroke="none">4</tspan></text>
<path d="M414.7,42.0 H512.4 V139.5 H414.7 Z" fill="none" stroke="#1e1e1e" stroke-width="1.25"/>
<line x1="411.70" y1="139.50" x2="414.7" y2="139.50" stroke="#1e1e1e" stroke-width="0.6"/>
<text x="408.20" y="142.00" font-size="8.5" fill="#2b2b2b" stroke="#2b2b2b" text-anchor="end">0</text>
<line x1="413.50" y1="134.85" x2="414.7" y2="134.85" stroke="#1e1e1e" stroke-width="0.6"/>
<line x1="413.50" y1="130.20" x2="414.7" y2="130.20" stroke="#1e1e1e" stroke-width="0.6"/>
<line x1="413.50" y1="125.55" x2="414.7" y2="125.55" stroke="#1e1e1e" stroke-width="0.6"/>
<line x1="411.70" y1="120.90" x2="414.7" y2="120.90" stroke="#1e1e1e" stroke-width="0.6"/>
<text x="408.20" y="123.40" font-size="8.5" fill="#2b2b2b" stroke="#2b2b2b" text-anchor="end">20</text>
<line x1="413.50" y1="116.25" x2="414.7" y2="116.25" stroke="#1e1e1e" stroke-width="0.6"/>
<line x1="413.50" y1="111.60" x2="414.7" y2="111.60" stroke="#1e1e1e" stroke-width="0.6"/>
<line x1="413.50" y1="106.95" x2="414.7" y2="106.95" stroke="#1e1e1e" stroke-width="0.6"/>
<line x1="411.70" y1="102.30" x2="414.7" y2="102.30" stroke="#1e1e1e" stroke-width="0.6"/>
<text x="408.20" y="104.80" font-size="8.5" fill="#2b2b2b" stroke="#2b2b2b" text-anchor="end">40</text>
<line x1="413.50" y1="97.65" x2="414.7" y2="97.65" stroke="#1e1e1e" stroke-width="0.6"/>
<line x1="413.50" y1="93.00" x2="414.7" y2="93.00" stroke="#1e1e1e" stroke-width="0.6"/>
<line x1="413.50" y1="88.35" x2="414.7" y2="88.35" stroke="#1e1e1e" stroke-width="0.6"/>
<line x1="411.70" y1="83.70" x2="414.7" y2="83.70" stroke="#1e1e1e" stroke-width="0.6"/>
<text x="408.20" y="86.20" font-size="8.5" fill="#2b2b2b" stroke="#2b2b2b" text-anchor="end">60</text>
<line x1="413.50" y1="79.05" x2="414.7" y2="79.05" stroke="#1e1e1e" stroke-width="0.6"/>
<line x1="413.50" y1="74.40" x2="414.7" y2="74.40" stroke="#1e1e1e" stroke-width="0.6"/>
<line x1="413.50" y1="69.75" x2="414.7" y2="69.75" stroke="#1e1e1e" stroke-width="0.6"/>
<line x1="411.70" y1="65.10" x2="414.7" y2="65.10" stroke="#1e1e1e" stroke-width="0.6"/>
<text x="408.20" y="67.60" font-size="8.5" fill="#2b2b2b" stroke="#2b2b2b" text-anchor="end">80</text>
<line x1="413.50" y1="60.45" x2="414.7" y2="60.45" stroke="#1e1e1e" stroke-width="0.6"/>
<line x1="413.50" y1="55.80" x2="414.7" y2="55.80" stroke="#1e1e1e" stroke-width="0.6"/>
<line x1="413.50" y1="51.15" x2="414.7" y2="51.15" stroke="#1e1e1e" stroke-width="0.6"/>
<line x1="411.70" y1="46.50" x2="414.7" y2="46.50" stroke="#1e1e1e" stroke-width="0.6"/>
<text x="408.20" y="49.00" font-size="8.5" fill="#2b2b2b" stroke="#2b2b2b" text-anchor="end">100</text>
<line x1="431.90" y1="139.5" x2="431.90" y2="142.70" stroke="#000" stroke-width="0.85"/>
<line x1="423.60" y1="139.5" x2="423.60" y2="142.70" stroke="#000" stroke-width="0.85"/>
<line x1="440.10" y1="139.5" x2="440.10" y2="142.70" stroke="#000" stroke-width="0.85"/>
<line x1="469.80" y1="139.5" x2="469.80" y2="142.70" stroke="#000" stroke-width="0.85"/>
<line x1="499.90" y1="139.5" x2="499.90" y2="142.70" stroke="#000" stroke-width="0.85"/>
<line x1="426.90" y1="139.5" x2="426.90" y2="141.50" stroke="#000" stroke-width="0.85"/>
<line x1="430.30" y1="139.5" x2="430.30" y2="141.50" stroke="#000" stroke-width="0.85"/>
<line x1="430.70" y1="139.5" x2="430.70" y2="141.50" stroke="#000" stroke-width="0.85"/>
<line x1="431.10" y1="139.5" x2="431.10" y2="141.50" stroke="#000" stroke-width="0.85"/>
<line x1="431.50" y1="139.5" x2="431.50" y2="141.50" stroke="#000" stroke-width="0.85"/>
<line x1="432.30" y1="139.5" x2="432.30" y2="141.50" stroke="#000" stroke-width="0.85"/>
<line x1="432.70" y1="139.5" x2="432.70" y2="141.50" stroke="#000" stroke-width="0.85"/>
<line x1="433.10" y1="139.5" x2="433.10" y2="141.50" stroke="#000" stroke-width="0.85"/>
<line x1="433.40" y1="139.5" x2="433.40" y2="141.50" stroke="#000" stroke-width="0.85"/>
<line x1="436.00" y1="139.5" x2="436.00" y2="141.50" stroke="#000" stroke-width="0.85"/>
<line x1="446.70" y1="139.5" x2="446.70" y2="141.50" stroke="#000" stroke-width="0.85"/>
<line x1="452.50" y1="139.5" x2="452.50" y2="141.50" stroke="#000" stroke-width="0.85"/>
<line x1="456.20" y1="139.5" x2="456.20" y2="141.50" stroke="#000" stroke-width="0.85"/>
<line x1="459.70" y1="139.5" x2="459.70" y2="141.50" stroke="#000" stroke-width="0.85"/>
<line x1="462.00" y1="139.5" x2="462.00" y2="141.50" stroke="#000" stroke-width="0.85"/>
<line x1="464.30" y1="139.5" x2="464.30" y2="141.50" stroke="#000" stroke-width="0.85"/>
<line x1="466.10" y1="139.5" x2="466.10" y2="141.50" stroke="#000" stroke-width="0.85"/>
<line x1="468.00" y1="139.5" x2="468.00" y2="141.50" stroke="#000" stroke-width="0.85"/>
<line x1="478.86" y1="139.5" x2="478.86" y2="141.50" stroke="#000" stroke-width="0.85"/>
<line x1="484.16" y1="139.5" x2="484.16" y2="141.50" stroke="#000" stroke-width="0.85"/>
<line x1="487.92" y1="139.5" x2="487.92" y2="141.50" stroke="#000" stroke-width="0.85"/>
<line x1="490.84" y1="139.5" x2="490.84" y2="141.50" stroke="#000" stroke-width="0.85"/>
<line x1="493.22" y1="139.5" x2="493.22" y2="141.50" stroke="#000" stroke-width="0.85"/>
<line x1="495.24" y1="139.5" x2="495.24" y2="141.50" stroke="#000" stroke-width="0.85"/>
<line x1="496.98" y1="139.5" x2="496.98" y2="141.50" stroke="#000" stroke-width="0.85"/>
<line x1="498.52" y1="139.5" x2="498.52" y2="141.50" stroke="#000" stroke-width="0.85"/>
<line x1="508.96" y1="139.5" x2="508.96" y2="141.50" stroke="#000" stroke-width="0.85"/>
<text x="432.80" y="153.20" font-size="7.9" fill="#2b2b2b" stroke="#2b2b2b" text-anchor="middle">0</text>
<text x="470.00" y="153.20" font-size="7.8" fill="#2b2b2b" stroke="#2b2b2b" text-anchor="middle">10<tspan font-size="5.6" dy="-2.9" fill="#555" stroke="none">3</tspan></text>
<text x="500.10" y="153.20" font-size="7.8" fill="#2b2b2b" stroke="#2b2b2b" text-anchor="middle">10<tspan font-size="5.6" dy="-2.9" fill="#555" stroke="none">4</tspan></text>
<path d="M28.6,183.0 H126.0 V280.3 H28.6 Z" fill="none" stroke="#1e1e1e" stroke-width="1.25"/>
<line x1="25.60" y1="280.30" x2="28.6" y2="280.30" stroke="#1e1e1e" stroke-width="0.6"/>
<text x="22.10" y="282.80" font-size="8.5" fill="#2b2b2b" stroke="#2b2b2b" text-anchor="end">0</text>
<line x1="27.40" y1="275.66" x2="28.6" y2="275.66" stroke="#1e1e1e" stroke-width="0.6"/>
<line x1="27.40" y1="271.01" x2="28.6" y2="271.01" stroke="#1e1e1e" stroke-width="0.6"/>
<line x1="27.40" y1="266.37" x2="28.6" y2="266.37" stroke="#1e1e1e" stroke-width="0.6"/>
<line x1="25.60" y1="261.72" x2="28.6" y2="261.72" stroke="#1e1e1e" stroke-width="0.6"/>
<text x="22.10" y="264.22" font-size="8.5" fill="#2b2b2b" stroke="#2b2b2b" text-anchor="end">20</text>
<line x1="27.40" y1="257.07" x2="28.6" y2="257.07" stroke="#1e1e1e" stroke-width="0.6"/>
<line x1="27.40" y1="252.43" x2="28.6" y2="252.43" stroke="#1e1e1e" stroke-width="0.6"/>
<line x1="27.40" y1="247.79" x2="28.6" y2="247.79" stroke="#1e1e1e" stroke-width="0.6"/>
<line x1="25.60" y1="243.14" x2="28.6" y2="243.14" stroke="#1e1e1e" stroke-width="0.6"/>
<text x="22.10" y="245.64" font-size="8.5" fill="#2b2b2b" stroke="#2b2b2b" text-anchor="end">40</text>
<line x1="27.40" y1="238.50" x2="28.6" y2="238.50" stroke="#1e1e1e" stroke-width="0.6"/>
<line x1="27.40" y1="233.85" x2="28.6" y2="233.85" stroke="#1e1e1e" stroke-width="0.6"/>
<line x1="27.40" y1="229.21" x2="28.6" y2="229.21" stroke="#1e1e1e" stroke-width="0.6"/>
<line x1="25.60" y1="224.56" x2="28.6" y2="224.56" stroke="#1e1e1e" stroke-width="0.6"/>
<text x="22.10" y="227.06" font-size="8.5" fill="#2b2b2b" stroke="#2b2b2b" text-anchor="end">60</text>
<line x1="27.40" y1="219.92" x2="28.6" y2="219.92" stroke="#1e1e1e" stroke-width="0.6"/>
<line x1="27.40" y1="215.27" x2="28.6" y2="215.27" stroke="#1e1e1e" stroke-width="0.6"/>
<line x1="27.40" y1="210.62" x2="28.6" y2="210.62" stroke="#1e1e1e" stroke-width="0.6"/>
<line x1="25.60" y1="205.98" x2="28.6" y2="205.98" stroke="#1e1e1e" stroke-width="0.6"/>
<text x="22.10" y="208.48" font-size="8.5" fill="#2b2b2b" stroke="#2b2b2b" text-anchor="end">80</text>
<line x1="27.40" y1="201.34" x2="28.6" y2="201.34" stroke="#1e1e1e" stroke-width="0.6"/>
<line x1="27.40" y1="196.69" x2="28.6" y2="196.69" stroke="#1e1e1e" stroke-width="0.6"/>
<line x1="27.40" y1="192.05" x2="28.6" y2="192.05" stroke="#1e1e1e" stroke-width="0.6"/>
<line x1="25.60" y1="187.40" x2="28.6" y2="187.40" stroke="#1e1e1e" stroke-width="0.6"/>
<text x="22.10" y="189.90" font-size="8.5" fill="#2b2b2b" stroke="#2b2b2b" text-anchor="end">100</text>
<line x1="39.80" y1="280.3" x2="39.80" y2="283.50" stroke="#000" stroke-width="0.85"/>
<line x1="54.00" y1="280.3" x2="54.00" y2="283.50" stroke="#000" stroke-width="0.85"/>
<line x1="84.30" y1="280.3" x2="84.30" y2="283.50" stroke="#000" stroke-width="0.85"/>
<line x1="113.10" y1="280.3" x2="113.10" y2="283.50" stroke="#000" stroke-width="0.85"/>
<line x1="29.80" y1="280.3" x2="29.80" y2="282.30" stroke="#000" stroke-width="0.85"/>
<line x1="31.80" y1="280.3" x2="31.80" y2="282.30" stroke="#000" stroke-width="0.85"/>
<line x1="34.60" y1="280.3" x2="34.60" y2="282.30" stroke="#000" stroke-width="0.85"/>
<line x1="38.00" y1="280.3" x2="38.00" y2="282.30" stroke="#000" stroke-width="0.85"/>
<line x1="38.50" y1="280.3" x2="38.50" y2="282.30" stroke="#000" stroke-width="0.85"/>
<line x1="39.00" y1="280.3" x2="39.00" y2="282.30" stroke="#000" stroke-width="0.85"/>
<line x1="39.40" y1="280.3" x2="39.40" y2="282.30" stroke="#000" stroke-width="0.85"/>
<line x1="40.20" y1="280.3" x2="40.20" y2="282.30" stroke="#000" stroke-width="0.85"/>
<line x1="40.60" y1="280.3" x2="40.60" y2="282.30" stroke="#000" stroke-width="0.85"/>
<line x1="41.10" y1="280.3" x2="41.10" y2="282.30" stroke="#000" stroke-width="0.85"/>
<line x1="41.60" y1="280.3" x2="41.60" y2="282.30" stroke="#000" stroke-width="0.85"/>
<line x1="43.60" y1="280.3" x2="43.60" y2="282.30" stroke="#000" stroke-width="0.85"/>
<line x1="46.50" y1="280.3" x2="46.50" y2="282.30" stroke="#000" stroke-width="0.85"/>
<line x1="48.20" y1="280.3" x2="48.20" y2="282.30" stroke="#000" stroke-width="0.85"/>
<line x1="61.80" y1="280.3" x2="61.80" y2="282.30" stroke="#000" stroke-width="0.85"/>
<line x1="65.50" y1="280.3" x2="65.50" y2="282.30" stroke="#000" stroke-width="0.85"/>
<line x1="68.40" y1="280.3" x2="68.40" y2="282.30" stroke="#000" stroke-width="0.85"/>
<line x1="71.00" y1="280.3" x2="71.00" y2="282.30" stroke="#000" stroke-width="0.85"/>
<line x1="73.30" y1="280.3" x2="73.30" y2="282.30" stroke="#000" stroke-width="0.85"/>
<line x1="75.70" y1="280.3" x2="75.70" y2="282.30" stroke="#000" stroke-width="0.85"/>
<line x1="78.00" y1="280.3" x2="78.00" y2="282.30" stroke="#000" stroke-width="0.85"/>
<line x1="80.90" y1="280.3" x2="80.90" y2="282.30" stroke="#000" stroke-width="0.85"/>
<line x1="92.97" y1="280.3" x2="92.97" y2="282.30" stroke="#000" stroke-width="0.85"/>
<line x1="98.04" y1="280.3" x2="98.04" y2="282.30" stroke="#000" stroke-width="0.85"/>
<line x1="101.64" y1="280.3" x2="101.64" y2="282.30" stroke="#000" stroke-width="0.85"/>
<line x1="104.43" y1="280.3" x2="104.43" y2="282.30" stroke="#000" stroke-width="0.85"/>
<line x1="106.71" y1="280.3" x2="106.71" y2="282.30" stroke="#000" stroke-width="0.85"/>
<line x1="108.64" y1="280.3" x2="108.64" y2="282.30" stroke="#000" stroke-width="0.85"/>
<line x1="110.31" y1="280.3" x2="110.31" y2="282.30" stroke="#000" stroke-width="0.85"/>
<line x1="111.78" y1="280.3" x2="111.78" y2="282.30" stroke="#000" stroke-width="0.85"/>
<line x1="121.77" y1="280.3" x2="121.77" y2="282.30" stroke="#000" stroke-width="0.85"/>
<text x="41.00" y="294.00" font-size="7.9" fill="#2b2b2b" stroke="#2b2b2b" text-anchor="middle">0</text>
<text x="85.00" y="294.00" font-size="7.8" fill="#2b2b2b" stroke="#2b2b2b" text-anchor="middle">10<tspan font-size="5.6" dy="-2.9" fill="#555" stroke="none">3</tspan></text>
<text x="113.80" y="294.00" font-size="7.8" fill="#2b2b2b" stroke="#2b2b2b" text-anchor="middle">10<tspan font-size="5.6" dy="-2.9" fill="#555" stroke="none">4</tspan></text>
<path d="M158.0,183.0 H255.5 V280.3 H158.0 Z" fill="none" stroke="#1e1e1e" stroke-width="1.25"/>
<line x1="155.00" y1="280.30" x2="158.0" y2="280.30" stroke="#1e1e1e" stroke-width="0.6"/>
<text x="151.50" y="282.80" font-size="8.5" fill="#2b2b2b" stroke="#2b2b2b" text-anchor="end">0</text>
<line x1="156.80" y1="275.66" x2="158.0" y2="275.66" stroke="#1e1e1e" stroke-width="0.6"/>
<line x1="156.80" y1="271.01" x2="158.0" y2="271.01" stroke="#1e1e1e" stroke-width="0.6"/>
<line x1="156.80" y1="266.37" x2="158.0" y2="266.37" stroke="#1e1e1e" stroke-width="0.6"/>
<line x1="155.00" y1="261.72" x2="158.0" y2="261.72" stroke="#1e1e1e" stroke-width="0.6"/>
<text x="151.50" y="264.22" font-size="8.5" fill="#2b2b2b" stroke="#2b2b2b" text-anchor="end">20</text>
<line x1="156.80" y1="257.07" x2="158.0" y2="257.07" stroke="#1e1e1e" stroke-width="0.6"/>
<line x1="156.80" y1="252.43" x2="158.0" y2="252.43" stroke="#1e1e1e" stroke-width="0.6"/>
<line x1="156.80" y1="247.79" x2="158.0" y2="247.79" stroke="#1e1e1e" stroke-width="0.6"/>
<line x1="155.00" y1="243.14" x2="158.0" y2="243.14" stroke="#1e1e1e" stroke-width="0.6"/>
<text x="151.50" y="245.64" font-size="8.5" fill="#2b2b2b" stroke="#2b2b2b" text-anchor="end">40</text>
<line x1="156.80" y1="238.50" x2="158.0" y2="238.50" stroke="#1e1e1e" stroke-width="0.6"/>
<line x1="156.80" y1="233.85" x2="158.0" y2="233.85" stroke="#1e1e1e" stroke-width="0.6"/>
<line x1="156.80" y1="229.21" x2="158.0" y2="229.21" stroke="#1e1e1e" stroke-width="0.6"/>
<line x1="155.00" y1="224.56" x2="158.0" y2="224.56" stroke="#1e1e1e" stroke-width="0.6"/>
<text x="151.50" y="227.06" font-size="8.5" fill="#2b2b2b" stroke="#2b2b2b" text-anchor="end">60</text>
<line x1="156.80" y1="219.92" x2="158.0" y2="219.92" stroke="#1e1e1e" stroke-width="0.6"/>
<line x1="156.80" y1="215.27" x2="158.0" y2="215.27" stroke="#1e1e1e" stroke-width="0.6"/>
<line x1="156.80" y1="210.62" x2="158.0" y2="210.62" stroke="#1e1e1e" stroke-width="0.6"/>
<line x1="155.00" y1="205.98" x2="158.0" y2="205.98" stroke="#1e1e1e" stroke-width="0.6"/>
<text x="151.50" y="208.48" font-size="8.5" fill="#2b2b2b" stroke="#2b2b2b" text-anchor="end">80</text>
<line x1="156.80" y1="201.34" x2="158.0" y2="201.34" stroke="#1e1e1e" stroke-width="0.6"/>
<line x1="156.80" y1="196.69" x2="158.0" y2="196.69" stroke="#1e1e1e" stroke-width="0.6"/>
<line x1="156.80" y1="192.05" x2="158.0" y2="192.05" stroke="#1e1e1e" stroke-width="0.6"/>
<line x1="155.00" y1="187.40" x2="158.0" y2="187.40" stroke="#1e1e1e" stroke-width="0.6"/>
<text x="151.50" y="189.90" font-size="8.5" fill="#2b2b2b" stroke="#2b2b2b" text-anchor="end">100</text>
<line x1="167.80" y1="280.3" x2="167.80" y2="283.50" stroke="#000" stroke-width="0.85"/>
<line x1="187.50" y1="280.3" x2="187.50" y2="283.50" stroke="#000" stroke-width="0.85"/>
<line x1="207.20" y1="280.3" x2="207.20" y2="283.50" stroke="#000" stroke-width="0.85"/>
<line x1="226.90" y1="280.3" x2="226.90" y2="283.50" stroke="#000" stroke-width="0.85"/>
<line x1="246.60" y1="280.3" x2="246.60" y2="283.50" stroke="#000" stroke-width="0.85"/>
<line x1="159.96" y1="280.3" x2="159.96" y2="282.30" stroke="#000" stroke-width="0.85"/>
<line x1="161.87" y1="280.3" x2="161.87" y2="282.30" stroke="#000" stroke-width="0.85"/>
<line x1="163.43" y1="280.3" x2="163.43" y2="282.30" stroke="#000" stroke-width="0.85"/>
<line x1="164.75" y1="280.3" x2="164.75" y2="282.30" stroke="#000" stroke-width="0.85"/>
<line x1="165.89" y1="280.3" x2="165.89" y2="282.30" stroke="#000" stroke-width="0.85"/>
<line x1="166.90" y1="280.3" x2="166.90" y2="282.30" stroke="#000" stroke-width="0.85"/>
<line x1="173.73" y1="280.3" x2="173.73" y2="282.30" stroke="#000" stroke-width="0.85"/>
<line x1="177.20" y1="280.3" x2="177.20" y2="282.30" stroke="#000" stroke-width="0.85"/>
<line x1="179.66" y1="280.3" x2="179.66" y2="282.30" stroke="#000" stroke-width="0.85"/>
<line x1="181.57" y1="280.3" x2="181.57" y2="282.30" stroke="#000" stroke-width="0.85"/>
<line x1="183.13" y1="280.3" x2="183.13" y2="282.30" stroke="#000" stroke-width="0.85"/>
<line x1="184.45" y1="280.3" x2="184.45" y2="282.30" stroke="#000" stroke-width="0.85"/>
<line x1="185.59" y1="280.3" x2="185.59" y2="282.30" stroke="#000" stroke-width="0.85"/>
<line x1="186.60" y1="280.3" x2="186.60" y2="282.30" stroke="#000" stroke-width="0.85"/>
<line x1="193.43" y1="280.3" x2="193.43" y2="282.30" stroke="#000" stroke-width="0.85"/>
<line x1="196.90" y1="280.3" x2="196.90" y2="282.30" stroke="#000" stroke-width="0.85"/>
<line x1="199.36" y1="280.3" x2="199.36" y2="282.30" stroke="#000" stroke-width="0.85"/>
<line x1="201.27" y1="280.3" x2="201.27" y2="282.30" stroke="#000" stroke-width="0.85"/>
<line x1="202.83" y1="280.3" x2="202.83" y2="282.30" stroke="#000" stroke-width="0.85"/>
<line x1="204.15" y1="280.3" x2="204.15" y2="282.30" stroke="#000" stroke-width="0.85"/>
<line x1="205.29" y1="280.3" x2="205.29" y2="282.30" stroke="#000" stroke-width="0.85"/>
<line x1="206.30" y1="280.3" x2="206.30" y2="282.30" stroke="#000" stroke-width="0.85"/>
<line x1="213.13" y1="280.3" x2="213.13" y2="282.30" stroke="#000" stroke-width="0.85"/>
<line x1="216.60" y1="280.3" x2="216.60" y2="282.30" stroke="#000" stroke-width="0.85"/>
<line x1="219.06" y1="280.3" x2="219.06" y2="282.30" stroke="#000" stroke-width="0.85"/>
<line x1="220.97" y1="280.3" x2="220.97" y2="282.30" stroke="#000" stroke-width="0.85"/>
<line x1="222.53" y1="280.3" x2="222.53" y2="282.30" stroke="#000" stroke-width="0.85"/>
<line x1="223.85" y1="280.3" x2="223.85" y2="282.30" stroke="#000" stroke-width="0.85"/>
<line x1="224.99" y1="280.3" x2="224.99" y2="282.30" stroke="#000" stroke-width="0.85"/>
<line x1="226.00" y1="280.3" x2="226.00" y2="282.30" stroke="#000" stroke-width="0.85"/>
<line x1="232.83" y1="280.3" x2="232.83" y2="282.30" stroke="#000" stroke-width="0.85"/>
<line x1="236.30" y1="280.3" x2="236.30" y2="282.30" stroke="#000" stroke-width="0.85"/>
<line x1="238.76" y1="280.3" x2="238.76" y2="282.30" stroke="#000" stroke-width="0.85"/>
<line x1="240.67" y1="280.3" x2="240.67" y2="282.30" stroke="#000" stroke-width="0.85"/>
<line x1="242.23" y1="280.3" x2="242.23" y2="282.30" stroke="#000" stroke-width="0.85"/>
<line x1="243.55" y1="280.3" x2="243.55" y2="282.30" stroke="#000" stroke-width="0.85"/>
<line x1="244.69" y1="280.3" x2="244.69" y2="282.30" stroke="#000" stroke-width="0.85"/>
<line x1="245.70" y1="280.3" x2="245.70" y2="282.30" stroke="#000" stroke-width="0.85"/>
<line x1="252.53" y1="280.3" x2="252.53" y2="282.30" stroke="#000" stroke-width="0.85"/>
<text x="168.30" y="294.00" font-size="7.8" fill="#2b2b2b" stroke="#2b2b2b" text-anchor="middle">10<tspan font-size="5.6" dy="-2.9" fill="#555" stroke="none">1</tspan></text>
<text x="188.00" y="294.00" font-size="7.8" fill="#2b2b2b" stroke="#2b2b2b" text-anchor="middle">10<tspan font-size="5.6" dy="-2.9" fill="#555" stroke="none">2</tspan></text>
<text x="207.70" y="294.00" font-size="7.8" fill="#2b2b2b" stroke="#2b2b2b" text-anchor="middle">10<tspan font-size="5.6" dy="-2.9" fill="#555" stroke="none">3</tspan></text>
<text x="227.40" y="294.00" font-size="7.8" fill="#2b2b2b" stroke="#2b2b2b" text-anchor="middle">10<tspan font-size="5.6" dy="-2.9" fill="#555" stroke="none">4</tspan></text>
<text x="247.10" y="294.00" font-size="7.8" fill="#2b2b2b" stroke="#2b2b2b" text-anchor="middle">10<tspan font-size="5.6" dy="-2.9" fill="#555" stroke="none">5</tspan></text>
<path d="M286.3,183.0 H384.0 V280.3 H286.3 Z" fill="none" stroke="#1e1e1e" stroke-width="1.25"/>
<line x1="283.30" y1="280.30" x2="286.3" y2="280.30" stroke="#1e1e1e" stroke-width="0.6"/>
<text x="279.80" y="282.80" font-size="8.5" fill="#2b2b2b" stroke="#2b2b2b" text-anchor="end">0</text>
<line x1="285.10" y1="275.66" x2="286.3" y2="275.66" stroke="#1e1e1e" stroke-width="0.6"/>
<line x1="285.10" y1="271.01" x2="286.3" y2="271.01" stroke="#1e1e1e" stroke-width="0.6"/>
<line x1="285.10" y1="266.37" x2="286.3" y2="266.37" stroke="#1e1e1e" stroke-width="0.6"/>
<line x1="283.30" y1="261.72" x2="286.3" y2="261.72" stroke="#1e1e1e" stroke-width="0.6"/>
<text x="279.80" y="264.22" font-size="8.5" fill="#2b2b2b" stroke="#2b2b2b" text-anchor="end">20</text>
<line x1="285.10" y1="257.07" x2="286.3" y2="257.07" stroke="#1e1e1e" stroke-width="0.6"/>
<line x1="285.10" y1="252.43" x2="286.3" y2="252.43" stroke="#1e1e1e" stroke-width="0.6"/>
<line x1="285.10" y1="247.79" x2="286.3" y2="247.79" stroke="#1e1e1e" stroke-width="0.6"/>
<line x1="283.30" y1="243.14" x2="286.3" y2="243.14" stroke="#1e1e1e" stroke-width="0.6"/>
<text x="279.80" y="245.64" font-size="8.5" fill="#2b2b2b" stroke="#2b2b2b" text-anchor="end">40</text>
<line x1="285.10" y1="238.50" x2="286.3" y2="238.50" stroke="#1e1e1e" stroke-width="0.6"/>
<line x1="285.10" y1="233.85" x2="286.3" y2="233.85" stroke="#1e1e1e" stroke-width="0.6"/>
<line x1="285.10" y1="229.21" x2="286.3" y2="229.21" stroke="#1e1e1e" stroke-width="0.6"/>
<line x1="283.30" y1="224.56" x2="286.3" y2="224.56" stroke="#1e1e1e" stroke-width="0.6"/>
<text x="279.80" y="227.06" font-size="8.5" fill="#2b2b2b" stroke="#2b2b2b" text-anchor="end">60</text>
<line x1="285.10" y1="219.92" x2="286.3" y2="219.92" stroke="#1e1e1e" stroke-width="0.6"/>
<line x1="285.10" y1="215.27" x2="286.3" y2="215.27" stroke="#1e1e1e" stroke-width="0.6"/>
<line x1="285.10" y1="210.62" x2="286.3" y2="210.62" stroke="#1e1e1e" stroke-width="0.6"/>
<line x1="283.30" y1="205.98" x2="286.3" y2="205.98" stroke="#1e1e1e" stroke-width="0.6"/>
<text x="279.80" y="208.48" font-size="8.5" fill="#2b2b2b" stroke="#2b2b2b" text-anchor="end">80</text>
<line x1="285.10" y1="201.34" x2="286.3" y2="201.34" stroke="#1e1e1e" stroke-width="0.6"/>
<line x1="285.10" y1="196.69" x2="286.3" y2="196.69" stroke="#1e1e1e" stroke-width="0.6"/>
<line x1="285.10" y1="192.05" x2="286.3" y2="192.05" stroke="#1e1e1e" stroke-width="0.6"/>
<line x1="283.30" y1="187.40" x2="286.3" y2="187.40" stroke="#1e1e1e" stroke-width="0.6"/>
<text x="279.80" y="189.90" font-size="8.5" fill="#2b2b2b" stroke="#2b2b2b" text-anchor="end">100</text>
<line x1="297.80" y1="280.3" x2="297.80" y2="283.50" stroke="#000" stroke-width="0.85"/>
<line x1="312.00" y1="280.3" x2="312.00" y2="283.50" stroke="#000" stroke-width="0.85"/>
<line x1="342.30" y1="280.3" x2="342.30" y2="283.50" stroke="#000" stroke-width="0.85"/>
<line x1="371.10" y1="280.3" x2="371.10" y2="283.50" stroke="#000" stroke-width="0.85"/>
<line x1="287.80" y1="280.3" x2="287.80" y2="282.30" stroke="#000" stroke-width="0.85"/>
<line x1="289.80" y1="280.3" x2="289.80" y2="282.30" stroke="#000" stroke-width="0.85"/>
<line x1="292.60" y1="280.3" x2="292.60" y2="282.30" stroke="#000" stroke-width="0.85"/>
<line x1="296.00" y1="280.3" x2="296.00" y2="282.30" stroke="#000" stroke-width="0.85"/>
<line x1="296.50" y1="280.3" x2="296.50" y2="282.30" stroke="#000" stroke-width="0.85"/>
<line x1="297.00" y1="280.3" x2="297.00" y2="282.30" stroke="#000" stroke-width="0.85"/>
<line x1="297.40" y1="280.3" x2="297.40" y2="282.30" stroke="#000" stroke-width="0.85"/>
<line x1="298.20" y1="280.3" x2="298.20" y2="282.30" stroke="#000" stroke-width="0.85"/>
<line x1="298.60" y1="280.3" x2="298.60" y2="282.30" stroke="#000" stroke-width="0.85"/>
<line x1="299.10" y1="280.3" x2="299.10" y2="282.30" stroke="#000" stroke-width="0.85"/>
<line x1="299.60" y1="280.3" x2="299.60" y2="282.30" stroke="#000" stroke-width="0.85"/>
<line x1="301.60" y1="280.3" x2="301.60" y2="282.30" stroke="#000" stroke-width="0.85"/>
<line x1="304.50" y1="280.3" x2="304.50" y2="282.30" stroke="#000" stroke-width="0.85"/>
<line x1="306.20" y1="280.3" x2="306.20" y2="282.30" stroke="#000" stroke-width="0.85"/>
<line x1="319.80" y1="280.3" x2="319.80" y2="282.30" stroke="#000" stroke-width="0.85"/>
<line x1="323.50" y1="280.3" x2="323.50" y2="282.30" stroke="#000" stroke-width="0.85"/>
<line x1="326.40" y1="280.3" x2="326.40" y2="282.30" stroke="#000" stroke-width="0.85"/>
<line x1="329.00" y1="280.3" x2="329.00" y2="282.30" stroke="#000" stroke-width="0.85"/>
<line x1="331.30" y1="280.3" x2="331.30" y2="282.30" stroke="#000" stroke-width="0.85"/>
<line x1="333.70" y1="280.3" x2="333.70" y2="282.30" stroke="#000" stroke-width="0.85"/>
<line x1="336.00" y1="280.3" x2="336.00" y2="282.30" stroke="#000" stroke-width="0.85"/>
<line x1="338.90" y1="280.3" x2="338.90" y2="282.30" stroke="#000" stroke-width="0.85"/>
<line x1="350.97" y1="280.3" x2="350.97" y2="282.30" stroke="#000" stroke-width="0.85"/>
<line x1="356.04" y1="280.3" x2="356.04" y2="282.30" stroke="#000" stroke-width="0.85"/>
<line x1="359.64" y1="280.3" x2="359.64" y2="282.30" stroke="#000" stroke-width="0.85"/>
<line x1="362.43" y1="280.3" x2="362.43" y2="282.30" stroke="#000" stroke-width="0.85"/>
<line x1="364.71" y1="280.3" x2="364.71" y2="282.30" stroke="#000" stroke-width="0.85"/>
<line x1="366.64" y1="280.3" x2="366.64" y2="282.30" stroke="#000" stroke-width="0.85"/>
<line x1="368.31" y1="280.3" x2="368.31" y2="282.30" stroke="#000" stroke-width="0.85"/>
<line x1="369.78" y1="280.3" x2="369.78" y2="282.30" stroke="#000" stroke-width="0.85"/>
<line x1="379.77" y1="280.3" x2="379.77" y2="282.30" stroke="#000" stroke-width="0.85"/>
<text x="299.00" y="294.00" font-size="7.9" fill="#2b2b2b" stroke="#2b2b2b" text-anchor="middle">0</text>
<text x="343.00" y="294.00" font-size="7.8" fill="#2b2b2b" stroke="#2b2b2b" text-anchor="middle">10<tspan font-size="5.6" dy="-2.9" fill="#555" stroke="none">3</tspan></text>
<text x="371.80" y="294.00" font-size="7.8" fill="#2b2b2b" stroke="#2b2b2b" text-anchor="middle">10<tspan font-size="5.6" dy="-2.9" fill="#555" stroke="none">4</tspan></text>
<path d="M414.7,183.0 H512.4 V280.3 H414.7 Z" fill="none" stroke="#1e1e1e" stroke-width="1.25"/>
<line x1="411.70" y1="280.30" x2="414.7" y2="280.30" stroke="#1e1e1e" stroke-width="0.6"/>
<text x="408.20" y="282.80" font-size="8.5" fill="#2b2b2b" stroke="#2b2b2b" text-anchor="end">0</text>
<line x1="413.50" y1="275.66" x2="414.7" y2="275.66" stroke="#1e1e1e" stroke-width="0.6"/>
<line x1="413.50" y1="271.01" x2="414.7" y2="271.01" stroke="#1e1e1e" stroke-width="0.6"/>
<line x1="413.50" y1="266.37" x2="414.7" y2="266.37" stroke="#1e1e1e" stroke-width="0.6"/>
<line x1="411.70" y1="261.72" x2="414.7" y2="261.72" stroke="#1e1e1e" stroke-width="0.6"/>
<text x="408.20" y="264.22" font-size="8.5" fill="#2b2b2b" stroke="#2b2b2b" text-anchor="end">20</text>
<line x1="413.50" y1="257.07" x2="414.7" y2="257.07" stroke="#1e1e1e" stroke-width="0.6"/>
<line x1="413.50" y1="252.43" x2="414.7" y2="252.43" stroke="#1e1e1e" stroke-width="0.6"/>
<line x1="413.50" y1="247.79" x2="414.7" y2="247.79" stroke="#1e1e1e" stroke-width="0.6"/>
<line x1="411.70" y1="243.14" x2="414.7" y2="243.14" stroke="#1e1e1e" stroke-width="0.6"/>
<text x="408.20" y="245.64" font-size="8.5" fill="#2b2b2b" stroke="#2b2b2b" text-anchor="end">40</text>
<line x1="413.50" y1="238.50" x2="414.7" y2="238.50" stroke="#1e1e1e" stroke-width="0.6"/>
<line x1="413.50" y1="233.85" x2="414.7" y2="233.85" stroke="#1e1e1e" stroke-width="0.6"/>
<line x1="413.50" y1="229.21" x2="414.7" y2="229.21" stroke="#1e1e1e" stroke-width="0.6"/>
<line x1="411.70" y1="224.56" x2="414.7" y2="224.56" stroke="#1e1e1e" stroke-width="0.6"/>
<text x="408.20" y="227.06" font-size="8.5" fill="#2b2b2b" stroke="#2b2b2b" text-anchor="end">60</text>
<line x1="413.50" y1="219.92" x2="414.7" y2="219.92" stroke="#1e1e1e" stroke-width="0.6"/>
<line x1="413.50" y1="215.27" x2="414.7" y2="215.27" stroke="#1e1e1e" stroke-width="0.6"/>
<line x1="413.50" y1="210.62" x2="414.7" y2="210.62" stroke="#1e1e1e" stroke-width="0.6"/>
<line x1="411.70" y1="205.98" x2="414.7" y2="205.98" stroke="#1e1e1e" stroke-width="0.6"/>
<text x="408.20" y="208.48" font-size="8.5" fill="#2b2b2b" stroke="#2b2b2b" text-anchor="end">80</text>
<line x1="413.50" y1="201.34" x2="414.7" y2="201.34" stroke="#1e1e1e" stroke-width="0.6"/>
<line x1="413.50" y1="196.69" x2="414.7" y2="196.69" stroke="#1e1e1e" stroke-width="0.6"/>
<line x1="413.50" y1="192.05" x2="414.7" y2="192.05" stroke="#1e1e1e" stroke-width="0.6"/>
<line x1="411.70" y1="187.40" x2="414.7" y2="187.40" stroke="#1e1e1e" stroke-width="0.6"/>
<text x="408.20" y="189.90" font-size="8.5" fill="#2b2b2b" stroke="#2b2b2b" text-anchor="end">100</text>
<line x1="426.00" y1="280.3" x2="426.00" y2="283.50" stroke="#000" stroke-width="0.85"/>
<line x1="440.20" y1="280.3" x2="440.20" y2="283.50" stroke="#000" stroke-width="0.85"/>
<line x1="470.50" y1="280.3" x2="470.50" y2="283.50" stroke="#000" stroke-width="0.85"/>
<line x1="499.30" y1="280.3" x2="499.30" y2="283.50" stroke="#000" stroke-width="0.85"/>
<line x1="416.00" y1="280.3" x2="416.00" y2="282.30" stroke="#000" stroke-width="0.85"/>
<line x1="418.00" y1="280.3" x2="418.00" y2="282.30" stroke="#000" stroke-width="0.85"/>
<line x1="420.80" y1="280.3" x2="420.80" y2="282.30" stroke="#000" stroke-width="0.85"/>
<line x1="424.20" y1="280.3" x2="424.20" y2="282.30" stroke="#000" stroke-width="0.85"/>
<line x1="424.70" y1="280.3" x2="424.70" y2="282.30" stroke="#000" stroke-width="0.85"/>
<line x1="425.20" y1="280.3" x2="425.20" y2="282.30" stroke="#000" stroke-width="0.85"/>
<line x1="425.60" y1="280.3" x2="425.60" y2="282.30" stroke="#000" stroke-width="0.85"/>
<line x1="426.40" y1="280.3" x2="426.40" y2="282.30" stroke="#000" stroke-width="0.85"/>
<line x1="426.80" y1="280.3" x2="426.80" y2="282.30" stroke="#000" stroke-width="0.85"/>
<line x1="427.30" y1="280.3" x2="427.30" y2="282.30" stroke="#000" stroke-width="0.85"/>
<line x1="427.80" y1="280.3" x2="427.80" y2="282.30" stroke="#000" stroke-width="0.85"/>
<line x1="429.80" y1="280.3" x2="429.80" y2="282.30" stroke="#000" stroke-width="0.85"/>
<line x1="432.70" y1="280.3" x2="432.70" y2="282.30" stroke="#000" stroke-width="0.85"/>
<line x1="434.40" y1="280.3" x2="434.40" y2="282.30" stroke="#000" stroke-width="0.85"/>
<line x1="448.00" y1="280.3" x2="448.00" y2="282.30" stroke="#000" stroke-width="0.85"/>
<line x1="451.70" y1="280.3" x2="451.70" y2="282.30" stroke="#000" stroke-width="0.85"/>
<line x1="454.60" y1="280.3" x2="454.60" y2="282.30" stroke="#000" stroke-width="0.85"/>
<line x1="457.20" y1="280.3" x2="457.20" y2="282.30" stroke="#000" stroke-width="0.85"/>
<line x1="459.50" y1="280.3" x2="459.50" y2="282.30" stroke="#000" stroke-width="0.85"/>
<line x1="461.90" y1="280.3" x2="461.90" y2="282.30" stroke="#000" stroke-width="0.85"/>
<line x1="464.20" y1="280.3" x2="464.20" y2="282.30" stroke="#000" stroke-width="0.85"/>
<line x1="467.10" y1="280.3" x2="467.10" y2="282.30" stroke="#000" stroke-width="0.85"/>
<line x1="479.17" y1="280.3" x2="479.17" y2="282.30" stroke="#000" stroke-width="0.85"/>
<line x1="484.24" y1="280.3" x2="484.24" y2="282.30" stroke="#000" stroke-width="0.85"/>
<line x1="487.84" y1="280.3" x2="487.84" y2="282.30" stroke="#000" stroke-width="0.85"/>
<line x1="490.63" y1="280.3" x2="490.63" y2="282.30" stroke="#000" stroke-width="0.85"/>
<line x1="492.91" y1="280.3" x2="492.91" y2="282.30" stroke="#000" stroke-width="0.85"/>
<line x1="494.84" y1="280.3" x2="494.84" y2="282.30" stroke="#000" stroke-width="0.85"/>
<line x1="496.51" y1="280.3" x2="496.51" y2="282.30" stroke="#000" stroke-width="0.85"/>
<line x1="497.98" y1="280.3" x2="497.98" y2="282.30" stroke="#000" stroke-width="0.85"/>
<line x1="507.97" y1="280.3" x2="507.97" y2="282.30" stroke="#000" stroke-width="0.85"/>
<text x="427.20" y="294.00" font-size="7.9" fill="#2b2b2b" stroke="#2b2b2b" text-anchor="middle">0</text>
<text x="471.20" y="294.00" font-size="7.8" fill="#2b2b2b" stroke="#2b2b2b" text-anchor="middle">10<tspan font-size="5.6" dy="-2.9" fill="#555" stroke="none">3</tspan></text>
<text x="500.00" y="294.00" font-size="7.8" fill="#2b2b2b" stroke="#2b2b2b" text-anchor="middle">10<tspan font-size="5.6" dy="-2.9" fill="#555" stroke="none">4</tspan></text>
<line x1="28.4" y1="158.5" x2="508" y2="158.5" stroke="#333" stroke-width="1"/>
<path d="M512.4,158.5 L504.6,155.2 L507.2,158.5 L504.6,161.8 Z" fill="#111"/>
<text x="259.70" y="169.80" font-size="10" fill="#333" stroke="#333" textLength="19.6" lengthAdjust="spacingAndGlyphs">CD59</text>
<line x1="28.4" y1="299.4" x2="508" y2="299.4" stroke="#333" stroke-width="1"/>
<path d="M512.4,299.4 L504.6,296.09999999999997 L507.2,299.4 L504.6,302.7 Z" fill="#111"/>
<text x="261.30" y="310.70" font-size="10" fill="#333" stroke="#333" textLength="17.9" lengthAdjust="spacingAndGlyphs">Emm</text>
</svg></body></html>
